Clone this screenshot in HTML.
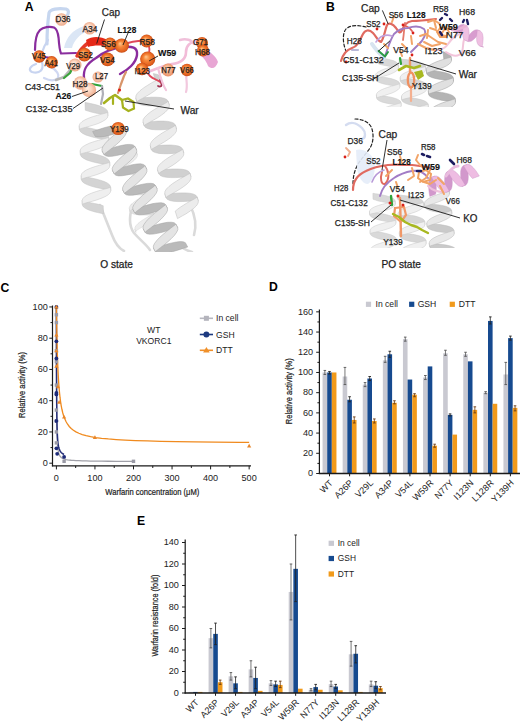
<!DOCTYPE html>
<html><head><meta charset="utf-8"><style>
html,body{margin:0;padding:0;background:#fff;}
svg{display:block;}
text{font-family:"Liberation Sans", sans-serif;}
</style></head><body>
<svg width="520" height="724" viewBox="0 0 520 724">
<rect width="520" height="724" fill="#fff"/>
<defs>
<radialGradient id="gO" cx="50%" cy="50%" r="50%" fx="38%" fy="35%">
<stop offset="0" stop-color="#ffc890"/><stop offset="0.4" stop-color="#f7883a"/><stop offset="0.85" stop-color="#e2601e"/><stop offset="1" stop-color="#c44d18"/></radialGradient>
<radialGradient id="gP" cx="50%" cy="50%" r="50%" fx="38%" fy="35%">
<stop offset="0" stop-color="#fff0e6"/><stop offset="0.5" stop-color="#fad2bc"/><stop offset="1" stop-color="#eeaa8a"/></radialGradient>
<radialGradient id="gQ" cx="50%" cy="50%" r="50%" fx="38%" fy="35%">
<stop offset="0" stop-color="#ffe0c8"/><stop offset="0.5" stop-color="#f8b890"/><stop offset="1" stop-color="#e8906a"/></radialGradient>
<clipPath id="cBt"><rect x="335" y="0" width="140" height="107"/></clipPath>
<clipPath id="cBb"><rect x="330" y="110" width="150" height="138"/></clipPath>
<clipPath id="cA"><rect x="20" y="0" width="205" height="252"/></clipPath>
</defs>
<g clip-path="url(#cA)">
<path d="M100,205 C104,215 108,225 112,235 C115,243 118,248 124,251" fill="none" stroke="#dadada" stroke-width="2.6" stroke-linecap="round" stroke-linejoin="round" />
<path d="M180,246 C184,249 188,251 192,252" fill="none" stroke="#dadada" stroke-width="2.6" stroke-linecap="round" stroke-linejoin="round" />
<path d="M132,205 C130,215 128,225 134,233 C140,240 146,244 150,250" fill="none" stroke="#dadada" stroke-width="2.6" stroke-linecap="round" stroke-linejoin="round" />
<path d="M190,205 C195,215 197,225 194,235" fill="none" stroke="#dadada" stroke-width="2.6" stroke-linecap="round" stroke-linejoin="round" />
<g opacity="0.9"><path d="M114.1,148.5 L115.9,148.6 L118.3,148.5 L121.0,148.5 L124.0,148.6 L127.0,148.7 L129.9,149.0 L132.4,149.5 L134.5,150.2 L135.9,151.1 L136.6,152.3 L137.3,154.9 L136.8,154.6 L135.6,154.4 L133.8,154.3 L131.4,154.4 L128.6,154.4 L125.6,154.3 L122.6,154.2 L119.7,153.9 L117.2,153.4 L115.3,152.6 Z" fill="#dcdcdc" stroke="#cfcfcf" stroke-width="0.5"/><path d="M118.2,168.3 L118.8,168.6 L120.5,168.8 L123.0,168.8 L126.2,168.8 L129.7,168.8 L133.3,169.0 L136.6,169.4 L139.3,170.1 L141.2,171.2 L142.2,172.5 L142.9,175.1 L142.2,174.8 L140.5,174.6 L138.0,174.6 L134.8,174.6 L131.3,174.6 L127.7,174.4 L124.4,174.0 L121.7,173.3 L119.8,172.2 L118.9,170.9 Z" fill="#dcdcdc" stroke="#cfcfcf" stroke-width="0.5"/><path d="M123.7,188.5 L124.4,188.9 L126.1,189.0 L128.6,189.0 L131.8,189.0 L135.3,189.1 L138.9,189.2 L142.2,189.7 L144.9,190.4 L146.8,191.4 L147.7,192.8 L148.4,195.4 L147.8,195.0 L146.1,194.9 L143.6,194.8 L140.4,194.9 L136.9,194.8 L133.3,194.7 L130.0,194.2 L127.3,193.5 L125.4,192.5 L124.4,191.1 Z" fill="#dcdcdc" stroke="#cfcfcf" stroke-width="0.5"/><path d="M129.3,208.7 L130.0,209.1 L131.6,209.3 L134.2,209.3 L137.3,209.3 L140.9,209.3 L144.4,209.5 L147.7,209.9 L150.5,210.6 L152.4,211.7 L153.3,213.0 L154.0,215.6 L153.3,215.3 L151.7,215.1 L149.2,215.1 L146.0,215.1 L142.4,215.1 L138.9,214.9 L135.6,214.5 L132.9,213.8 L130.9,212.7 L130.0,211.4 Z" fill="#dcdcdc" stroke="#cfcfcf" stroke-width="0.5"/><path d="M134.9,229.0 L134.9,229.0 L134.9,229.1 L134.9,229.1 L134.9,229.1 L135.0,229.1 L135.0,229.2 L135.0,229.2 L135.1,229.2 L135.1,229.2 L135.1,229.3 L136.0,232.5 L136.0,232.4 L135.9,232.3 L135.9,232.2 L135.8,232.1 L135.8,232.0 L135.7,232.0 L135.7,231.9 L135.6,231.8 L135.6,231.7 L135.6,231.6 Z" fill="#dcdcdc" stroke="#cfcfcf" stroke-width="0.5"/><path d="M136.6,152.3 L136.2,153.0 L134.9,153.9 L132.7,155.2 L130.0,156.8 L126.9,158.7 L124.0,160.7 L121.3,162.7 L119.4,164.7 L118.3,166.6 L118.2,168.3 L118.9,170.9 L119.3,170.2 L120.6,169.2 L122.8,167.9 L125.5,166.3 L128.5,164.5 L131.5,162.5 L134.1,160.4 L136.1,158.4 L137.2,156.5 L137.3,154.9 Z" fill="#ececec" stroke="#cfcfcf" stroke-width="0.5"/><path d="M142.2,172.5 L141.8,173.2 L140.4,174.2 L138.3,175.5 L135.5,177.1 L132.5,178.9 L129.5,180.9 L126.9,183.0 L124.9,185.0 L123.8,186.9 L123.7,188.5 L124.4,191.1 L124.8,190.4 L126.2,189.5 L128.3,188.2 L131.1,186.6 L134.1,184.7 L137.1,182.7 L139.7,180.7 L141.7,178.7 L142.8,176.8 L142.9,175.1 Z" fill="#ececec" stroke="#cfcfcf" stroke-width="0.5"/><path d="M147.7,192.8 L147.4,193.5 L146.0,194.4 L143.8,195.7 L141.1,197.3 L138.1,199.2 L135.1,201.2 L132.5,203.2 L130.5,205.2 L129.4,207.1 L129.3,208.7 L130.0,211.4 L130.4,210.7 L131.7,209.7 L133.9,208.4 L136.6,206.8 L139.7,205.0 L142.6,203.0 L145.3,200.9 L147.2,198.9 L148.3,197.0 L148.4,195.4 Z" fill="#ececec" stroke="#cfcfcf" stroke-width="0.5"/><path d="M153.3,213.0 L152.9,213.7 L151.6,214.7 L149.4,216.0 L146.7,217.6 L143.6,219.4 L140.7,221.4 L138.0,223.5 L136.1,225.5 L135.0,227.4 L134.9,229.0 L135.6,231.6 L136.0,230.9 L137.3,230.0 L139.5,228.6 L142.2,227.0 L145.2,225.2 L148.2,223.2 L150.8,221.2 L152.8,219.2 L153.9,217.3 L154.0,215.6 Z" fill="#ececec" stroke="#cfcfcf" stroke-width="0.5"/></g>
<g opacity="1.0"><path d="M85.0,102.4 L87.8,102.9 L90.8,103.6 L94.0,104.3 L97.1,105.1 L100.0,106.0 L102.5,107.1 L104.7,108.2 L106.3,109.4 L107.4,110.7 L107.7,112.0 L107.9,115.9 L107.5,115.5 L106.6,115.2 L105.0,114.8 L102.8,114.4 L100.3,114.0 L97.4,113.4 L94.3,112.8 L91.2,112.0 L88.1,111.1 L85.3,110.2 Z" fill="#d4d4d4" stroke="#c2c2c2" stroke-width="0.5"/><path d="M79.2,125.7 L80.0,126.2 L82.1,126.7 L85.3,127.3 L89.4,128.0 L93.9,129.0 L98.4,130.2 L102.5,131.6 L105.8,133.3 L107.9,135.1 L108.7,137.0 L108.9,140.9 L108.1,140.4 L106.0,139.8 L102.8,139.2 L98.7,138.5 L94.2,137.5 L89.7,136.3 L85.6,134.9 L82.3,133.2 L80.2,131.4 L79.4,129.5 Z" fill="#d4d4d4" stroke="#c2c2c2" stroke-width="0.5"/><path d="M80.2,150.6 L80.9,151.1 L83.0,151.7 L86.3,152.3 L90.3,153.0 L94.8,154.0 L99.4,155.2 L103.5,156.6 L106.7,158.2 L108.9,160.1 L109.7,162.0 L109.8,165.8 L109.1,165.3 L107.0,164.8 L103.8,164.2 L99.7,163.4 L95.2,162.5 L90.6,161.3 L86.5,159.9 L83.3,158.2 L81.1,156.4 L80.4,154.5 Z" fill="#d4d4d4" stroke="#c2c2c2" stroke-width="0.5"/><path d="M81.2,175.6 L81.9,176.1 L84.0,176.6 L87.2,177.2 L91.3,178.0 L95.8,179.0 L100.3,180.2 L104.4,181.6 L107.7,183.2 L109.8,185.0 L110.6,187.0 L110.8,190.8 L110.0,190.3 L108.0,189.8 L104.7,189.2 L100.7,188.4 L96.1,187.5 L91.6,186.3 L87.5,184.8 L84.2,183.2 L82.1,181.4 L81.3,179.4 Z" fill="#d4d4d4" stroke="#c2c2c2" stroke-width="0.5"/><path d="M82.1,200.6 L82.4,200.9 L83.3,201.2 L84.8,201.6 L86.7,202.0 L89.0,202.4 L91.7,202.9 L94.5,203.5 L97.5,204.1 L100.4,204.9 L103.2,205.7 L103.5,213.8 L100.7,213.2 L97.8,212.6 L94.9,211.9 L92.0,211.1 L89.3,210.2 L87.0,209.2 L85.0,208.1 L83.5,206.9 L82.6,205.7 L82.3,204.4 Z" fill="#d4d4d4" stroke="#c2c2c2" stroke-width="0.5"/><path d="M107.7,112.0 L107.1,112.6 L105.0,113.3 L101.8,114.1 L97.8,115.2 L93.4,116.5 L89.0,118.0 L85.0,119.8 L81.9,121.7 L79.9,123.7 L79.2,125.7 L79.4,129.5 L80.1,128.9 L82.1,128.2 L85.3,127.4 L89.3,126.3 L93.7,125.0 L98.2,123.5 L102.1,121.7 L105.3,119.8 L107.3,117.9 L107.9,115.9 Z" fill="#efefef" stroke="#c2c2c2" stroke-width="0.5"/><path d="M108.7,137.0 L108.0,137.6 L106.0,138.3 L102.8,139.1 L98.8,140.2 L94.4,141.5 L89.9,143.0 L86.0,144.8 L82.8,146.7 L80.8,148.6 L80.2,150.6 L80.4,154.5 L81.0,153.9 L83.1,153.2 L86.3,152.4 L90.3,151.3 L94.7,150.0 L99.1,148.5 L103.1,146.7 L106.2,144.8 L108.2,142.8 L108.9,140.9 Z" fill="#efefef" stroke="#c2c2c2" stroke-width="0.5"/><path d="M109.7,162.0 L109.0,162.6 L106.9,163.2 L103.8,164.1 L99.8,165.2 L95.3,166.5 L90.9,168.0 L86.9,169.7 L83.8,171.6 L81.8,173.6 L81.2,175.6 L81.3,179.4 L82.0,178.9 L84.0,178.2 L87.2,177.3 L91.2,176.3 L95.7,175.0 L100.1,173.4 L104.1,171.7 L107.2,169.8 L109.2,167.8 L109.8,165.8 Z" fill="#efefef" stroke="#c2c2c2" stroke-width="0.5"/><path d="M110.6,187.0 L109.9,187.5 L107.9,188.2 L104.7,189.1 L100.7,190.2 L96.3,191.5 L91.9,193.0 L87.9,194.7 L84.7,196.6 L82.8,198.6 L82.1,200.6 L82.3,204.4 L83.0,203.9 L85.0,203.2 L88.2,202.3 L92.2,201.3 L96.6,200.0 L101.0,198.4 L105.0,196.7 L108.2,194.8 L110.1,192.8 L110.8,190.8 Z" fill="#efefef" stroke="#c2c2c2" stroke-width="0.5"/></g>
<g opacity="1.0"><path d="M153.3,73.6 L154.5,73.8 L155.6,74.0 L156.6,74.2 L157.6,74.6 L158.4,74.9 L159.1,75.3 L159.8,75.7 L160.2,76.2 L160.6,76.7 L160.9,77.3 L162.0,81.2 L161.9,81.1 L161.7,81.0 L161.3,80.9 L160.9,80.9 L160.2,80.9 L159.5,81.0 L158.7,81.0 L157.8,81.1 L156.7,81.2 L155.6,81.3 Z" fill="#d0d0d0" stroke="#bcbcbc" stroke-width="0.5"/><path d="M135.8,98.0 L136.6,98.2 L138.8,98.1 L142.2,97.8 L146.5,97.5 L151.2,97.2 L156.1,97.2 L160.5,97.5 L164.2,98.3 L166.8,99.5 L168.1,101.2 L169.3,105.1 L168.4,104.8 L166.2,104.9 L162.9,105.2 L158.6,105.6 L153.8,105.8 L149.0,105.9 L144.5,105.5 L140.8,104.8 L138.2,103.6 L136.9,101.8 Z" fill="#d0d0d0" stroke="#bcbcbc" stroke-width="0.5"/><path d="M143.0,121.9 L143.9,122.1 L146.1,122.1 L149.4,121.8 L153.7,121.4 L158.5,121.1 L163.3,121.1 L167.8,121.4 L171.5,122.2 L174.1,123.4 L175.4,125.1 L176.5,129.0 L175.7,128.8 L173.5,128.9 L170.1,129.1 L165.8,129.5 L161.1,129.8 L156.2,129.8 L151.8,129.5 L148.1,128.7 L145.5,127.5 L144.2,125.8 Z" fill="#d0d0d0" stroke="#bcbcbc" stroke-width="0.5"/><path d="M150.3,145.8 L151.1,146.1 L153.3,146.0 L156.7,145.7 L161.0,145.3 L165.7,145.1 L170.6,145.0 L175.0,145.4 L178.7,146.1 L181.3,147.4 L182.6,149.1 L183.8,153.0 L182.9,152.7 L180.7,152.8 L177.4,153.1 L173.1,153.4 L168.3,153.7 L163.5,153.7 L159.0,153.4 L155.3,152.6 L152.7,151.4 L151.4,149.7 Z" fill="#d0d0d0" stroke="#bcbcbc" stroke-width="0.5"/><path d="M157.5,169.7 L158.4,170.0 L160.6,169.9 L163.9,169.6 L168.2,169.3 L173.0,169.0 L177.8,169.0 L182.3,169.3 L186.0,170.0 L188.6,171.3 L189.9,173.0 L191.0,176.9 L190.2,176.6 L188.0,176.7 L184.6,177.0 L180.3,177.3 L175.6,177.6 L170.7,177.6 L166.3,177.3 L162.6,176.6 L160.0,175.3 L158.7,173.6 Z" fill="#d0d0d0" stroke="#bcbcbc" stroke-width="0.5"/><path d="M164.8,193.7 L165.6,193.9 L167.8,193.8 L171.2,193.5 L175.5,193.2 L180.2,192.9 L185.1,192.9 L189.5,193.2 L193.2,194.0 L195.8,195.2 L197.1,196.9 L198.3,200.8 L197.4,200.5 L195.2,200.6 L191.9,200.9 L187.6,201.3 L182.8,201.5 L178.0,201.6 L173.5,201.3 L169.8,200.5 L167.2,199.3 L165.9,197.5 Z" fill="#d0d0d0" stroke="#bcbcbc" stroke-width="0.5"/><path d="M160.9,77.3 L160.3,78.0 L158.4,79.1 L155.4,80.8 L151.7,82.8 L147.6,85.3 L143.6,87.9 L140.0,90.7 L137.4,93.3 L135.9,95.8 L135.8,98.0 L136.9,101.8 L137.5,101.2 L139.4,100.0 L142.4,98.4 L146.1,96.3 L150.2,93.9 L154.2,91.2 L157.8,88.5 L160.4,85.8 L161.9,83.3 L162.0,81.2 Z" fill="#ececec" stroke="#bcbcbc" stroke-width="0.5"/><path d="M168.1,101.2 L167.5,101.9 L165.7,103.1 L162.7,104.7 L159.0,106.8 L154.8,109.2 L150.8,111.8 L147.3,114.6 L144.6,117.3 L143.1,119.7 L143.0,121.9 L144.2,125.8 L144.8,125.1 L146.6,123.9 L149.6,122.3 L153.3,120.2 L157.5,117.8 L161.5,115.1 L165.0,112.4 L167.7,109.7 L169.2,107.2 L169.3,105.1 Z" fill="#ececec" stroke="#bcbcbc" stroke-width="0.5"/><path d="M175.4,125.1 L174.8,125.8 L172.9,127.0 L169.9,128.6 L166.2,130.7 L162.1,133.1 L158.1,135.8 L154.5,138.5 L151.9,141.2 L150.4,143.7 L150.3,145.8 L151.4,149.7 L152.0,149.0 L153.9,147.9 L156.9,146.2 L160.6,144.1 L164.7,141.7 L168.7,139.1 L172.3,136.3 L174.9,133.6 L176.4,131.2 L176.5,129.0 Z" fill="#ececec" stroke="#bcbcbc" stroke-width="0.5"/><path d="M182.6,149.1 L182.0,149.8 L180.2,150.9 L177.2,152.5 L173.5,154.6 L169.3,157.0 L165.3,159.7 L161.8,162.4 L159.1,165.1 L157.6,167.6 L157.5,169.7 L158.7,173.6 L159.3,172.9 L161.1,171.8 L164.1,170.1 L167.8,168.1 L172.0,165.7 L176.0,163.0 L179.5,160.2 L182.2,157.6 L183.7,155.1 L183.8,153.0 Z" fill="#ececec" stroke="#bcbcbc" stroke-width="0.5"/><path d="M189.9,173.0 L189.3,173.7 L187.4,174.8 L184.4,176.5 L180.7,178.5 L176.6,181.0 L172.6,183.6 L169.0,186.4 L166.4,189.0 L164.9,191.5 L164.8,193.7 L165.9,197.5 L166.5,196.9 L168.4,195.7 L171.4,194.1 L175.1,192.0 L179.2,189.6 L183.2,186.9 L186.8,184.2 L189.4,181.5 L190.9,179.0 L191.0,176.9 Z" fill="#ececec" stroke="#bcbcbc" stroke-width="0.5"/><path d="M197.1,196.9 L196.8,197.4 L195.8,198.1 L194.1,199.1 L191.9,200.3 L189.2,201.7 L186.3,203.4 L183.3,205.3 L180.3,207.2 L177.6,209.2 L175.2,211.2 L177.5,218.6 L180.0,217.2 L182.8,215.6 L185.9,213.9 L188.9,211.9 L191.7,209.9 L194.2,207.9 L196.2,206.0 L197.6,204.1 L198.3,202.3 L198.3,200.8 Z" fill="#ececec" stroke="#bcbcbc" stroke-width="0.5"/></g>
<g opacity="1.0"><path d="M92.6,131.5 L94.4,130.9 L97.2,130.0 L100.8,128.8 L104.9,127.5 L109.3,126.4 L113.6,125.5 L117.5,125.0 L120.7,125.0 L123.1,125.6 L124.4,126.8 L126.3,130.4 L125.6,130.4 L123.8,130.9 L121.1,131.8 L117.5,133.0 L113.5,134.3 L109.1,135.4 L104.8,136.4 L100.9,136.9 L97.6,136.9 L95.2,136.4 Z" fill="#bababa" stroke="#a2a2a2" stroke-width="0.5"/><path d="M102.1,151.0 L103.0,150.9 L105.1,150.2 L108.4,149.1 L112.6,147.8 L117.2,146.4 L122.1,145.3 L126.6,144.5 L130.4,144.4 L133.1,144.9 L134.7,146.2 L136.6,149.8 L135.7,149.9 L133.6,150.5 L130.3,151.6 L126.1,153.0 L121.5,154.4 L116.6,155.5 L112.1,156.3 L108.3,156.4 L105.6,155.8 L104.0,154.6 Z" fill="#bababa" stroke="#a2a2a2" stroke-width="0.5"/><path d="M112.4,170.4 L113.2,170.4 L115.4,169.7 L118.7,168.6 L122.8,167.2 L127.5,165.9 L132.3,164.7 L136.8,164.0 L140.6,163.8 L143.4,164.4 L145.0,165.7 L146.8,169.3 L146.0,169.3 L143.9,170.0 L140.6,171.1 L136.4,172.5 L131.7,173.8 L126.9,175.0 L122.4,175.7 L118.6,175.9 L115.8,175.3 L114.3,174.0 Z" fill="#bababa" stroke="#a2a2a2" stroke-width="0.5"/><path d="M122.7,189.9 L123.5,189.8 L125.6,189.2 L128.9,188.0 L133.1,186.7 L137.8,185.3 L142.6,184.2 L147.1,183.4 L150.9,183.3 L153.7,183.8 L155.2,185.1 L157.1,188.7 L156.3,188.8 L154.1,189.4 L150.9,190.6 L146.7,191.9 L142.0,193.3 L137.2,194.4 L132.7,195.2 L128.9,195.3 L126.1,194.8 L124.6,193.5 Z" fill="#bababa" stroke="#a2a2a2" stroke-width="0.5"/><path d="M132.9,209.3 L133.8,209.3 L135.9,208.6 L139.2,207.5 L143.4,206.1 L148.1,204.8 L152.9,203.6 L157.4,202.9 L161.2,202.7 L164.0,203.3 L165.5,204.6 L167.4,208.2 L166.6,208.2 L164.4,208.9 L161.1,210.0 L157.0,211.4 L152.3,212.7 L147.5,213.9 L143.0,214.6 L139.2,214.8 L136.4,214.2 L134.8,212.9 Z" fill="#bababa" stroke="#a2a2a2" stroke-width="0.5"/><path d="M143.2,228.8 L144.0,228.7 L146.2,228.1 L149.5,227.0 L153.6,225.6 L158.3,224.2 L163.1,223.1 L167.6,222.3 L171.4,222.2 L174.2,222.7 L175.8,224.0 L177.7,227.6 L176.8,227.7 L174.7,228.3 L171.4,229.5 L167.2,230.8 L162.5,232.2 L157.7,233.3 L153.2,234.1 L149.4,234.2 L146.7,233.7 L145.1,232.4 Z" fill="#bababa" stroke="#a2a2a2" stroke-width="0.5"/><path d="M153.5,248.2 L154.2,248.2 L156.2,247.6 L159.1,246.6 L163.0,245.4 L167.3,244.0 L171.9,242.9 L176.3,242.0 L180.2,241.6 L183.3,241.8 L185.4,242.7 L187.7,247.0 L186.2,247.4 L183.7,248.2 L180.2,249.4 L176.0,250.7 L171.5,252.0 L167.0,253.0 L162.8,253.6 L159.3,253.7 L156.8,253.1 L155.4,251.8 Z" fill="#bababa" stroke="#a2a2a2" stroke-width="0.5"/><path d="M124.4,126.8 L123.9,127.4 L122.1,128.8 L119.4,130.9 L115.9,133.6 L112.1,136.7 L108.4,140.0 L105.3,143.3 L103.0,146.4 L101.9,149.0 L102.1,151.0 L104.0,154.6 L104.5,153.9 L106.3,152.5 L109.1,150.4 L112.5,147.7 L116.3,144.6 L120.0,141.3 L123.1,138.0 L125.4,135.0 L126.5,132.4 L126.3,130.4 Z" fill="#e4e4e4" stroke="#a2a2a2" stroke-width="0.5"/><path d="M134.7,146.2 L134.2,146.9 L132.4,148.3 L129.6,150.4 L126.2,153.0 L122.4,156.1 L118.7,159.5 L115.6,162.8 L113.3,165.8 L112.2,168.4 L112.4,170.4 L114.3,174.0 L114.8,173.4 L116.6,172.0 L119.3,169.9 L122.8,167.2 L126.6,164.1 L130.3,160.8 L133.4,157.5 L135.7,154.4 L136.8,151.8 L136.6,149.8 Z" fill="#e4e4e4" stroke="#a2a2a2" stroke-width="0.5"/><path d="M145.0,165.7 L144.4,166.3 L142.7,167.7 L139.9,169.8 L136.4,172.5 L132.7,175.6 L129.0,178.9 L125.8,182.2 L123.6,185.3 L122.5,187.9 L122.7,189.9 L124.6,193.5 L125.1,192.8 L126.8,191.4 L129.6,189.3 L133.1,186.7 L136.9,183.6 L140.5,180.2 L143.7,176.9 L145.9,173.9 L147.0,171.3 L146.8,169.3 Z" fill="#e4e4e4" stroke="#a2a2a2" stroke-width="0.5"/><path d="M155.2,185.1 L154.7,185.8 L153.0,187.2 L150.2,189.3 L146.7,191.9 L142.9,195.0 L139.3,198.4 L136.1,201.7 L133.9,204.7 L132.7,207.3 L132.9,209.3 L134.8,212.9 L135.4,212.3 L137.1,210.9 L139.9,208.8 L143.4,206.1 L147.1,203.0 L150.8,199.7 L153.9,196.4 L156.2,193.3 L157.3,190.7 L157.1,188.7 Z" fill="#e4e4e4" stroke="#a2a2a2" stroke-width="0.5"/><path d="M165.5,204.6 L165.0,205.2 L163.2,206.6 L160.5,208.7 L157.0,211.4 L153.2,214.5 L149.5,217.8 L146.4,221.1 L144.1,224.2 L143.0,226.8 L143.2,228.8 L145.1,232.4 L145.6,231.7 L147.4,230.3 L150.2,228.2 L153.6,225.6 L157.4,222.5 L161.1,219.1 L164.2,215.8 L166.5,212.8 L167.6,210.2 L167.4,208.2 Z" fill="#e4e4e4" stroke="#a2a2a2" stroke-width="0.5"/><path d="M175.8,224.0 L175.3,224.7 L173.5,226.1 L170.7,228.2 L167.3,230.9 L163.5,234.0 L159.8,237.3 L156.7,240.6 L154.4,243.6 L153.3,246.2 L153.5,248.2 L155.4,251.8 L155.9,251.2 L157.7,249.8 L160.4,247.7 L163.9,245.0 L167.7,241.9 L171.3,238.6 L174.5,235.3 L176.7,232.2 L177.9,229.6 L177.7,227.6 Z" fill="#e4e4e4" stroke="#a2a2a2" stroke-width="0.5"/></g>
</g>
<path d="M47,44 C47,34 48,20 49,13 C50,9 58,8 66,9 C69,10 69,13 67,16" fill="none" stroke="#c6d6ef" stroke-width="3.2" stroke-linecap="round" stroke-linejoin="round" />
<path d="M64,48 C66,38 72,30 84,26 C88,25 90,28 88,31 C80,34 74,40 72,48 Z" fill="#dbe6f5"/>
<path d="M48,40 C44,46 40,54 42,62 C44,70 40,74 32,72 C28,70 30,66 36,64" fill="none" stroke="#c8d4f0" stroke-width="2.2" stroke-linecap="round" stroke-linejoin="round" />
<path d="M50,66 C56,70 60,74 58,78 C54,82 48,80 44,78" fill="none" stroke="#d0d8f2" stroke-width="2.2" stroke-linecap="round" stroke-linejoin="round" />
<path d="M35,50 C35,42 36,34 40,30 C43,27 50,26 54,27.6 C57,29 58,33 58.6,38 C59,44 59.5,50 61,53.5 L76,53" fill="none" stroke="#8a2d9e" stroke-width="2.2" stroke-linecap="round" stroke-linejoin="round" />
<path d="M44,57 L52,58" fill="none" stroke="#8a2d9e" stroke-width="2.0" stroke-linecap="round" stroke-linejoin="round" />
<path d="M84,78 C83,70 86,64 96,58 C104,52 112,48 122,47 C132,46 138,47 137,55 C136,63 128,70 120,74" fill="none" stroke="#8a2d9e" stroke-width="2.4" stroke-linecap="round" stroke-linejoin="round" />
<path d="M56,80 L64,77 L70,70 L74,66" fill="none" stroke="#b8b8b8" stroke-width="2.6" stroke-linecap="round" stroke-linejoin="round" />
<path d="M64,78 L70,73 L73,67" fill="none" stroke="#3aa23a" stroke-width="2.2" stroke-linecap="round" stroke-linejoin="round" />
<path d="M77,56 C80,50 84,46 88,43" fill="none" stroke="#e53a2a" stroke-width="3.5" stroke-linecap="round" stroke-linejoin="round" />
<path d="M86,40 C92,36 100,36 108,40 L110,47 C102,45 94,45 88,47 Z" fill="#e52818"/>
<path d="M120,45 C130,42 140,40 147,41 C150,46 150,52 148,58 C146,64 144,70 150,76 C154,80 160,80 162,84" fill="none" stroke="#e0485a" stroke-width="1.8" stroke-linecap="round" stroke-linejoin="round" />
<path d="M160,80 C163,84 162,88 158,86" fill="none" stroke="#a03050" stroke-width="1.8" stroke-linecap="round" stroke-linejoin="round" />
<path d="M142,74 C150,72 160,66 172,64 C180,63 186,60 186,52 C186,46 190,42 196,41" fill="none" stroke="#f2bcd8" stroke-width="2.6" stroke-linecap="round" stroke-linejoin="round" />
<path d="M180,40 C186,38 192,40 194,44" fill="none" stroke="#f0c0da" stroke-width="2.4" stroke-linecap="round" stroke-linejoin="round" />
<path d="M158,68 C160,76 162,84 166,90" fill="none" stroke="#f2c4dc" stroke-width="2.2" stroke-linecap="round" stroke-linejoin="round" />
<path d="M186,72 C186,80 188,86 186,92" fill="none" stroke="#f2c8de" stroke-width="2.2" stroke-linecap="round" stroke-linejoin="round" />
<path d="M204,48 C210,52 216,56 218,62 C216,68 212,70 208,66 C206,60 202,56 198,54 Z" fill="#e8a6d4"/>
<path d="M92,84 L102,86" fill="none" stroke="#2fa33a" stroke-width="2.2" stroke-linecap="round" stroke-linejoin="round" />
<path d="M102,86 L103,94 L101,104" fill="none" stroke="#b0b0b8" stroke-width="2.2" stroke-linecap="round" stroke-linejoin="round" />
<path d="M118,93 L121,84 L124,76 L126,72" fill="none" stroke="#d8956a" stroke-width="2.2" stroke-linecap="round" stroke-linejoin="round" />
<circle cx="119.5" cy="90" r="1.6" fill="#e0201a"/>
<path d="M104,103 L110,98 L115,95 L122,100" fill="none" stroke="#a6b21e" stroke-width="2.6" stroke-linecap="round" stroke-linejoin="round" />
<path d="M122,100 L128,98.5 L133.5,102 L134,108.5 L128.5,111 L123,107.5 Z" fill="none" stroke="#a6b21e" stroke-width="2.2"/>
<path d="M113,96 L113,104" fill="none" stroke="#a6b21e" stroke-width="2.2" stroke-linecap="round" stroke-linejoin="round" />
<circle cx="61.5" cy="19.5" r="6.3" fill="url(#gP)"/>
<circle cx="89.6" cy="28.3" r="6.3" fill="url(#gP)"/>
<circle cx="75" cy="65" r="6.5" fill="url(#gP)"/>
<circle cx="80.5" cy="83" r="6.8" fill="url(#gP)"/>
<circle cx="89" cy="90" r="7.2" fill="url(#gP)"/>
<circle cx="98" cy="77" r="5.5" fill="url(#gP)"/>
<circle cx="168" cy="70" r="6.5" fill="url(#gQ)"/>
<circle cx="39.2" cy="56.5" r="6.2" fill="url(#gO)"/>
<circle cx="51.7" cy="62.3" r="6.2" fill="url(#gO)"/>
<circle cx="84.4" cy="54.6" r="6.8" fill="url(#gO)"/>
<circle cx="107.5" cy="59.4" r="6.8" fill="url(#gO)"/>
<circle cx="110" cy="44" r="6.5" fill="url(#gO)"/>
<circle cx="121.7" cy="45.6" r="7.2" fill="url(#gO)"/>
<circle cx="146.7" cy="41" r="6.5" fill="url(#gO)"/>
<circle cx="147.7" cy="59" r="7.6" fill="url(#gO)"/>
<circle cx="142" cy="69" r="6.2" fill="url(#gO)"/>
<circle cx="187" cy="70" r="6.2" fill="url(#gO)"/>
<circle cx="202" cy="43" r="6" fill="url(#gO)"/>
<circle cx="203" cy="50.5" r="6" fill="url(#gO)"/>
<circle cx="118.2" cy="128.5" r="6.6" fill="url(#gO)"/>
<line x1="104.5" y1="19.5" x2="96.7" y2="43.6" stroke="#1a1a1a" stroke-width="0.9"/>
<line x1="128" y1="33" x2="123" y2="45" stroke="#1a1a1a" stroke-width="0.9"/>
<line x1="158" y1="56" x2="149" y2="61" stroke="#1a1a1a" stroke-width="0.9"/>
<line x1="72" y1="96.5" x2="88" y2="91" stroke="#1a1a1a" stroke-width="0.9"/>
<line x1="73" y1="108.5" x2="103" y2="88" stroke="#1a1a1a" stroke-width="0.9"/>
<line x1="125" y1="101" x2="174" y2="109" stroke="#1a1a1a" stroke-width="0.9"/>
<text x="55.50" y="21.85" font-size="8.6" font-weight="normal" fill="#1e1e1e" stroke="#1e1e1e" stroke-width="0.25" textLength="15.00" lengthAdjust="spacingAndGlyphs">D36</text>
<text x="82.50" y="31.85" font-size="8.6" font-weight="normal" fill="#1e1e1e" stroke="#1e1e1e" stroke-width="0.25" textLength="15.00" lengthAdjust="spacingAndGlyphs">A34</text>
<text x="32.00" y="58.60" font-size="8.6" font-weight="normal" fill="#1e1e1e" stroke="#1e1e1e" stroke-width="0.25" textLength="13.75" lengthAdjust="spacingAndGlyphs">V45</text>
<text x="44.50" y="65.60" font-size="8.6" font-weight="normal" fill="#1e1e1e" stroke="#1e1e1e" stroke-width="0.25" textLength="13.50" lengthAdjust="spacingAndGlyphs">A41</text>
<text x="78.00" y="58.10" font-size="8.6" font-weight="normal" fill="#1e1e1e" stroke="#1e1e1e" stroke-width="0.25" textLength="15.00" lengthAdjust="spacingAndGlyphs">S52</text>
<text x="100.00" y="62.60" font-size="8.6" font-weight="normal" fill="#1e1e1e" stroke="#1e1e1e" stroke-width="0.25" textLength="15.00" lengthAdjust="spacingAndGlyphs">V54</text>
<text x="66.25" y="69.35" font-size="8.6" font-weight="normal" fill="#1e1e1e" stroke="#1e1e1e" stroke-width="0.25" textLength="13.75" lengthAdjust="spacingAndGlyphs">V29</text>
<text x="101.00" y="46.85" font-size="8.6" font-weight="normal" fill="#1e1e1e" stroke="#1e1e1e" stroke-width="0.25" textLength="15.00" lengthAdjust="spacingAndGlyphs">S56</text>
<text x="95.00" y="79.35" font-size="8.6" font-weight="normal" fill="#1e1e1e" stroke="#1e1e1e" stroke-width="0.25" textLength="13.00" lengthAdjust="spacingAndGlyphs">L27</text>
<text x="72.50" y="87.35" font-size="8.6" font-weight="normal" fill="#1e1e1e" stroke="#1e1e1e" stroke-width="0.25" textLength="15.00" lengthAdjust="spacingAndGlyphs">H28</text>
<text x="25.00" y="90.10" font-size="8.6" font-weight="normal" fill="#1e1e1e" stroke="#1e1e1e" stroke-width="0.25" textLength="35.00" lengthAdjust="spacingAndGlyphs">C43-C51</text>
<text x="25.75" y="111.85" font-size="8.6" font-weight="normal" fill="#1e1e1e" stroke="#1e1e1e" stroke-width="0.25" textLength="46.75" lengthAdjust="spacingAndGlyphs">C132-C135</text>
<text x="110.00" y="131.85" font-size="8.6" font-weight="normal" fill="#1e1e1e" stroke="#1e1e1e" stroke-width="0.25" textLength="18.75" lengthAdjust="spacingAndGlyphs">Y139</text>
<text x="139.50" y="45.10" font-size="8.6" font-weight="normal" fill="#1e1e1e" stroke="#1e1e1e" stroke-width="0.25" textLength="15.50" lengthAdjust="spacingAndGlyphs">R58</text>
<text x="134.50" y="73.60" font-size="8.6" font-weight="normal" fill="#1e1e1e" stroke="#1e1e1e" stroke-width="0.25" textLength="15.50" lengthAdjust="spacingAndGlyphs">I123</text>
<text x="161.25" y="73.10" font-size="8.6" font-weight="normal" fill="#1e1e1e" stroke="#1e1e1e" stroke-width="0.25" textLength="14.25" lengthAdjust="spacingAndGlyphs">N77</text>
<text x="180.00" y="73.10" font-size="8.6" font-weight="normal" fill="#1e1e1e" stroke="#1e1e1e" stroke-width="0.25" textLength="13.75" lengthAdjust="spacingAndGlyphs">V66</text>
<text x="193.00" y="45.10" font-size="8.6" font-weight="normal" fill="#1e1e1e" stroke="#1e1e1e" stroke-width="0.25" textLength="15.00" lengthAdjust="spacingAndGlyphs">G71</text>
<text x="195.00" y="55.10" font-size="8.6" font-weight="normal" fill="#1e1e1e" stroke="#1e1e1e" stroke-width="0.25" textLength="15.00" lengthAdjust="spacingAndGlyphs">H68</text>
<text x="117.50" y="32.60" font-size="8.6" font-weight="bold" fill="#111" stroke="#111" stroke-width="0.15" textLength="18.75" lengthAdjust="spacingAndGlyphs">L128</text>
<text x="158.00" y="56.10" font-size="8.6" font-weight="bold" fill="#111" stroke="#111" stroke-width="0.15" textLength="18.25" lengthAdjust="spacingAndGlyphs">W59</text>
<text x="55.50" y="98.85" font-size="8.6" font-weight="bold" fill="#111" stroke="#111" stroke-width="0.15" textLength="15.75" lengthAdjust="spacingAndGlyphs">A26</text>
<text x="101.75" y="16.20" font-size="10" font-weight="normal" fill="#1e1e1e" stroke="#1e1e1e" stroke-width="0.25" textLength="18.25" lengthAdjust="spacingAndGlyphs">Cap</text>
<text x="180.50" y="113.60" font-size="10" font-weight="normal" fill="#1e1e1e" stroke="#1e1e1e" stroke-width="0.25" textLength="18.25" lengthAdjust="spacingAndGlyphs">War</text>
<text x="100.20" y="268.24" font-size="10.1" font-weight="normal" fill="#1e1e1e" stroke="#1e1e1e" stroke-width="0.25" textLength="32.70" lengthAdjust="spacingAndGlyphs">O state</text>
<g clip-path="url(#cBt)">
<g opacity="1.0"><path d="M377.5,57.6 L379.7,57.9 L382.3,58.3 L385.1,58.7 L387.9,59.2 L390.7,59.9 L393.2,60.6 L395.3,61.5 L396.9,62.5 L397.9,63.5 L398.4,64.7 L398.6,67.8 L398.2,67.6 L397.2,67.4 L395.7,67.1 L393.6,66.9 L391.1,66.6 L388.4,66.2 L385.6,65.7 L382.8,65.1 L380.2,64.4 L377.9,63.5 Z" fill="#d9d9d9" stroke="#c8c8c8" stroke-width="0.5"/><path d="M375.1,75.8 L375.7,76.1 L377.4,76.4 L380.1,76.7 L383.5,77.2 L387.2,77.8 L391.0,78.6 L394.4,79.6 L397.2,80.8 L399.0,82.1 L399.7,83.6 L399.9,86.8 L399.3,86.5 L397.5,86.2 L394.9,85.8 L391.5,85.4 L387.7,84.8 L383.9,84.0 L380.5,83.0 L377.8,81.8 L376.0,80.4 L375.3,78.9 Z" fill="#d9d9d9" stroke="#c8c8c8" stroke-width="0.5"/><path d="M376.4,94.8 L377.0,95.1 L378.7,95.4 L381.4,95.7 L384.8,96.1 L388.5,96.7 L392.3,97.5 L395.7,98.5 L398.5,99.7 L400.3,101.1 L401.0,102.6 L401.2,105.7 L400.6,105.4 L398.8,105.1 L396.2,104.8 L392.8,104.3 L389.0,103.7 L385.2,102.9 L381.8,102.0 L379.1,100.8 L377.3,99.4 L376.6,97.9 Z" fill="#d9d9d9" stroke="#c8c8c8" stroke-width="0.5"/><path d="M377.7,113.7 L377.8,113.8 L378.0,113.9 L378.4,114.1 L379.0,114.2 L379.7,114.3 L380.6,114.4 L381.6,114.5 L382.7,114.7 L383.9,114.8 L385.2,115.0 L385.6,121.7 L384.3,121.3 L383.1,120.9 L382.0,120.5 L381.0,120.0 L380.1,119.5 L379.4,119.0 L378.7,118.5 L378.3,118.0 L378.0,117.4 L377.9,116.8 Z" fill="#d9d9d9" stroke="#c8c8c8" stroke-width="0.5"/><path d="M398.4,64.7 L397.8,65.1 L396.1,65.6 L393.5,66.3 L390.2,67.2 L386.6,68.3 L382.9,69.6 L379.7,71.1 L377.1,72.6 L375.5,74.2 L375.1,75.8 L375.3,78.9 L375.8,78.5 L377.5,78.0 L380.1,77.3 L383.4,76.4 L387.1,75.3 L390.7,74.0 L393.9,72.5 L396.5,71.0 L398.1,69.4 L398.6,67.8 Z" fill="#f0f0f0" stroke="#c8c8c8" stroke-width="0.5"/><path d="M399.7,83.6 L399.1,84.0 L397.4,84.5 L394.8,85.3 L391.5,86.2 L387.9,87.3 L384.3,88.6 L381.0,90.0 L378.4,91.6 L376.8,93.2 L376.4,94.8 L376.6,97.9 L377.1,97.5 L378.8,97.0 L381.4,96.3 L384.7,95.4 L388.4,94.2 L392.0,93.0 L395.2,91.5 L397.8,89.9 L399.4,88.3 L399.9,86.8 Z" fill="#f0f0f0" stroke="#c8c8c8" stroke-width="0.5"/><path d="M401.0,102.6 L400.4,103.0 L398.7,103.5 L396.1,104.2 L392.8,105.1 L389.2,106.2 L385.6,107.5 L382.3,109.0 L379.8,110.5 L378.2,112.1 L377.7,113.7 L377.9,116.8 L378.5,116.5 L380.1,115.9 L382.7,115.2 L386.0,114.3 L389.7,113.2 L393.3,111.9 L396.5,110.5 L399.1,108.9 L400.7,107.3 L401.2,105.7 Z" fill="#f0f0f0" stroke="#c8c8c8" stroke-width="0.5"/></g>
<g opacity="1.0"><path d="M443.0,51.7 L444.4,52.1 L445.6,52.5 L446.8,52.9 L447.9,53.4 L448.8,53.9 L449.6,54.4 L450.2,55.0 L450.7,55.5 L451.0,56.1 L451.1,56.8 L451.5,60.3 L451.4,60.2 L451.1,60.1 L450.7,60.0 L450.1,59.9 L449.4,59.8 L448.5,59.7 L447.5,59.6 L446.3,59.5 L445.1,59.4 L443.8,59.3 Z" fill="#b4b4b4" stroke="#a0a0a0" stroke-width="0.5"/><path d="M426.3,69.7 L426.9,70.0 L428.8,70.3 L431.7,70.6 L435.4,70.9 L439.5,71.5 L443.6,72.3 L447.3,73.3 L450.4,74.5 L452.4,76.0 L453.2,77.7 L453.5,81.2 L452.8,80.9 L451.0,80.7 L448.0,80.4 L444.4,80.0 L440.3,79.5 L436.2,78.7 L432.4,77.7 L429.4,76.4 L427.4,75.0 L426.6,73.3 Z" fill="#b4b4b4" stroke="#a0a0a0" stroke-width="0.5"/><path d="M428.3,90.6 L429.0,90.9 L430.8,91.2 L433.8,91.5 L437.4,91.8 L441.5,92.4 L445.6,93.2 L449.4,94.2 L452.4,95.4 L454.4,96.9 L455.2,98.6 L455.5,102.1 L454.9,101.8 L453.0,101.6 L450.1,101.3 L446.4,100.9 L442.3,100.4 L438.2,99.6 L434.4,98.6 L431.4,97.3 L429.4,95.9 L428.6,94.2 Z" fill="#b4b4b4" stroke="#a0a0a0" stroke-width="0.5"/><path d="M430.3,111.5 L430.5,111.7 L431.2,111.9 L432.2,112.0 L433.6,112.2 L435.3,112.3 L437.2,112.5 L439.4,112.7 L441.7,113.0 L444.0,113.4 L446.4,113.8 L447.2,121.7 L444.8,121.3 L442.5,120.9 L440.1,120.5 L437.9,119.9 L435.9,119.3 L434.2,118.6 L432.8,117.8 L431.7,117.0 L431.0,116.1 L430.7,115.1 Z" fill="#b4b4b4" stroke="#a0a0a0" stroke-width="0.5"/><path d="M451.1,56.8 L450.5,57.2 L448.7,57.8 L445.9,58.6 L442.4,59.7 L438.5,61.0 L434.6,62.6 L431.1,64.3 L428.4,66.1 L426.7,67.9 L426.3,69.7 L426.6,73.3 L427.2,72.9 L429.0,72.3 L431.8,71.4 L435.4,70.3 L439.3,69.0 L443.1,67.5 L446.6,65.8 L449.3,64.0 L451.0,62.1 L451.5,60.3 Z" fill="#e0e0e0" stroke="#a0a0a0" stroke-width="0.5"/><path d="M453.2,77.7 L452.6,78.1 L450.8,78.7 L448.0,79.5 L444.4,80.6 L440.5,81.9 L436.6,83.5 L433.1,85.2 L430.4,87.0 L428.8,88.8 L428.3,90.6 L428.6,94.2 L429.2,93.8 L431.0,93.2 L433.8,92.3 L437.4,91.2 L441.3,89.9 L445.2,88.4 L448.6,86.7 L451.4,84.9 L453.0,83.0 L453.5,81.2 Z" fill="#e0e0e0" stroke="#a0a0a0" stroke-width="0.5"/><path d="M455.2,98.6 L454.6,99.0 L452.8,99.6 L450.0,100.4 L446.4,101.5 L442.5,102.8 L438.6,104.4 L435.2,106.1 L432.5,107.9 L430.8,109.7 L430.3,111.5 L430.7,115.1 L431.3,114.7 L433.1,114.1 L435.9,113.2 L439.4,112.1 L443.3,110.8 L447.2,109.3 L450.7,107.6 L453.4,105.8 L455.1,103.9 L455.5,102.1 Z" fill="#e0e0e0" stroke="#a0a0a0" stroke-width="0.5"/></g>
<g opacity="1.0"><path d="M399.1,58.8 L400.5,59.0 L402.8,59.3 L405.9,59.6 L409.5,60.0 L413.3,60.6 L417.1,61.4 L420.4,62.4 L423.1,63.5 L424.8,64.9 L425.5,66.3 L425.7,69.7 L425.1,69.4 L423.5,69.2 L420.9,68.9 L417.6,68.6 L413.9,68.1 L410.0,67.4 L406.3,66.6 L403.2,65.5 L400.8,64.3 L399.4,63.0 Z" fill="#d6d6d6" stroke="#c4c4c4" stroke-width="0.5"/><path d="M400.2,77.6 L400.8,77.8 L402.7,78.1 L405.6,78.4 L409.3,78.8 L413.3,79.3 L417.4,80.1 L421.1,81.1 L424.1,82.3 L426.0,83.7 L426.8,85.3 L427.0,88.6 L426.3,88.4 L424.5,88.1 L421.6,87.8 L417.9,87.4 L413.9,86.8 L409.8,86.1 L406.1,85.1 L403.1,83.9 L401.2,82.5 L400.4,80.9 Z" fill="#d6d6d6" stroke="#c4c4c4" stroke-width="0.5"/><path d="M401.5,96.5 L402.1,96.8 L404.0,97.0 L406.9,97.3 L410.6,97.7 L414.6,98.3 L418.7,99.1 L422.4,100.1 L425.4,101.3 L427.3,102.7 L428.1,104.2 L428.3,107.6 L427.7,107.3 L425.8,107.1 L422.9,106.8 L419.2,106.4 L415.2,105.8 L411.1,105.0 L407.4,104.0 L404.4,102.8 L402.5,101.4 L401.7,99.9 Z" fill="#d6d6d6" stroke="#c4c4c4" stroke-width="0.5"/><path d="M402.8,115.5 L402.8,115.5 L402.9,115.6 L403.0,115.6 L403.2,115.7 L403.3,115.7 L403.6,115.8 L403.9,115.8 L404.2,115.9 L404.5,115.9 L404.9,115.9 L405.3,121.6 L404.9,121.3 L404.5,121.1 L404.2,120.8 L403.9,120.5 L403.7,120.3 L403.5,120.0 L403.3,119.7 L403.2,119.4 L403.1,119.1 L403.0,118.8 Z" fill="#d6d6d6" stroke="#c4c4c4" stroke-width="0.5"/><path d="M425.5,66.3 L424.9,66.7 L423.0,67.2 L420.2,67.8 L416.6,68.7 L412.7,69.9 L408.7,71.2 L405.2,72.7 L402.4,74.3 L400.7,75.9 L400.2,77.6 L400.4,80.9 L401.0,80.6 L402.8,80.1 L405.7,79.4 L409.2,78.5 L413.2,77.4 L417.1,76.0 L420.7,74.5 L423.4,72.9 L425.2,71.3 L425.7,69.7 Z" fill="#f0f0f0" stroke="#c4c4c4" stroke-width="0.5"/><path d="M426.8,85.3 L426.2,85.6 L424.3,86.1 L421.5,86.8 L417.9,87.7 L414.0,88.8 L410.1,90.2 L406.5,91.6 L403.8,93.2 L402.0,94.9 L401.5,96.5 L401.7,99.9 L402.3,99.5 L404.1,99.0 L407.0,98.3 L410.6,97.4 L414.5,96.3 L418.4,95.0 L422.0,93.5 L424.7,91.9 L426.5,90.2 L427.0,88.6 Z" fill="#f0f0f0" stroke="#c4c4c4" stroke-width="0.5"/><path d="M428.1,104.2 L427.5,104.6 L425.6,105.1 L422.8,105.8 L419.2,106.7 L415.3,107.8 L411.4,109.1 L407.8,110.6 L405.1,112.2 L403.3,113.8 L402.8,115.5 L403.0,118.8 L403.6,118.5 L405.5,118.0 L408.3,117.3 L411.9,116.4 L415.8,115.3 L419.7,113.9 L423.3,112.4 L426.0,110.8 L427.8,109.2 L428.3,107.6 Z" fill="#f0f0f0" stroke="#c4c4c4" stroke-width="0.5"/></g>
</g>
<path d="M366,27 C358,25 350,25 346,29 C342,34 343,44 346,51" fill="none" stroke="#222" stroke-width="1.2" stroke-linecap="round" stroke-linejoin="round" stroke-dasharray="3,2.2"/>
<path d="M352,50 L358,50" fill="none" stroke="#b8b8d8" stroke-width="2.2" stroke-linecap="round" stroke-linejoin="round" />
<path d="M372,44 C376,50 380,54 384,58" fill="none" stroke="#d8e4f0" stroke-width="4" stroke-linecap="round" stroke-linejoin="round" />
<path d="M428,48 C436,52 444,50 448,44 C452,38 456,34 462,34" fill="none" stroke="#f4c8dc" stroke-width="2.2" stroke-linecap="round" stroke-linejoin="round" />
<path d="M446,52 C452,56 458,58 462,52 C464,46 462,40 466,36" fill="none" stroke="#f2c4da" stroke-width="2.0" stroke-linecap="round" stroke-linejoin="round" />
<g opacity="1.0"><path d="M453.9,31.2 L454.8,30.1 L455.6,29.0 L456.6,27.9 L457.6,26.9 L458.6,26.0 L459.7,25.3 L460.7,24.8 L461.6,24.5 L462.5,24.4 L463.4,24.6 L466.3,25.7 L466.2,25.8 L465.9,26.1 L465.6,26.7 L465.1,27.4 L464.5,28.3 L463.8,29.3 L463.1,30.4 L462.2,31.5 L461.2,32.6 L460.2,33.6 Z" fill="#d89ccf" stroke="#cc94c4" stroke-width="0.4"/><path d="M465.3,40.3 L465.6,40.1 L466.2,39.2 L467.0,37.9 L468.2,36.2 L469.6,34.4 L471.1,32.7 L472.8,31.3 L474.4,30.3 L476.0,29.8 L477.4,29.9 L480.3,31.1 L480.0,31.3 L479.5,32.2 L478.6,33.5 L477.5,35.2 L476.1,37.0 L474.5,38.7 L472.9,40.1 L471.2,41.2 L469.7,41.6 L468.3,41.5 Z" fill="#d89ccf" stroke="#cc94c4" stroke-width="0.4"/><path d="M479.3,45.7 L479.4,45.7 L479.4,45.7 L479.4,45.7 L479.4,45.7 L479.4,45.7 L479.5,45.6 L479.5,45.6 L479.5,45.6 L479.6,45.5 L479.6,45.5 L483.6,47.0 L483.5,47.0 L483.3,47.0 L483.2,47.0 L483.1,47.0 L482.9,47.0 L482.8,47.0 L482.7,47.0 L482.5,46.9 L482.4,46.9 L482.3,46.8 Z" fill="#d89ccf" stroke="#cc94c4" stroke-width="0.4"/><path d="M463.4,24.6 L463.4,24.9 L463.2,25.9 L463.0,27.5 L462.7,29.5 L462.6,31.8 L462.6,34.1 L462.8,36.3 L463.4,38.1 L464.2,39.5 L465.3,40.3 L468.3,41.5 L468.3,41.1 L468.4,40.1 L468.7,38.5 L468.9,36.5 L469.1,34.3 L469.1,31.9 L468.8,29.8 L468.3,27.9 L467.4,26.5 L466.3,25.7 Z" fill="#efc0e2" stroke="#cc94c4" stroke-width="0.4"/><path d="M477.4,29.9 L477.4,30.3 L477.2,31.3 L477.0,32.9 L476.7,34.9 L476.6,37.1 L476.6,39.5 L476.8,41.6 L477.4,43.5 L478.2,44.9 L479.3,45.7 L482.3,46.8 L482.3,46.5 L482.4,45.5 L482.7,43.9 L482.9,41.9 L483.1,39.7 L483.1,37.3 L482.8,35.1 L482.3,33.3 L481.4,31.9 L480.3,31.1 Z" fill="#efc0e2" stroke="#cc94c4" stroke-width="0.4"/></g>
<path d="M452,30 C458,30 462,28 466,26" fill="none" stroke="#eab4d6" stroke-width="2.6" stroke-linecap="round" stroke-linejoin="round" />
<path d="M341,61 C343,54 346,50 352,48 C358,46 360,40 363,34 C365,30 369,29 373,33 C376,36 378,41 381,42 C384,38 385,30 387,25 C389,22 393,24 396,28 C398,31 400,35 402,30 C404,26 406,22 412,21 C420,21 428,20 436,19" fill="none" stroke="#e06a60" stroke-width="2.2" stroke-linecap="round" stroke-linejoin="round" />
<path d="M405,23 C404,28 404,34 403,40" fill="none" stroke="#e4786a" stroke-width="1.8" stroke-linecap="round" stroke-linejoin="round" />
<path d="M403,25 C407,26 410,28 412,31" fill="none" stroke="#e0605a" stroke-width="1.8" stroke-linecap="round" stroke-linejoin="round" />
<path d="M385,56 C388,48 390,40 394,34 C398,30 403,28 408,28 C414,26 420,26 424,29 C427,33 424,40 418,45 C415,48 413,50 411,52" fill="none" stroke="#a07cc4" stroke-width="1.9" stroke-linecap="round" stroke-linejoin="round" />
<path d="M376,42 C380,36 386,34 392,36" fill="none" stroke="#c0a0dc" stroke-width="1.6" stroke-linecap="round" stroke-linejoin="round" />
<path d="M428,22 L434,20 L440,24" fill="none" stroke="#f2a468" stroke-width="2.0" stroke-linecap="round" stroke-linejoin="round" />
<path d="M430,28 L436,30 L440,35 L446,36" fill="none" stroke="#f2a468" stroke-width="2.0" stroke-linecap="round" stroke-linejoin="round" />
<path d="M426,34 L432,38 L438,42 L446,44" fill="none" stroke="#f2a468" stroke-width="2.0" stroke-linecap="round" stroke-linejoin="round" />
<path d="M424,42 L432,46 L440,44" fill="none" stroke="#f2a468" stroke-width="2.0" stroke-linecap="round" stroke-linejoin="round" />
<path d="M434,20 L436,28" fill="none" stroke="#f2a468" stroke-width="2.0" stroke-linecap="round" stroke-linejoin="round" />
<path d="M428,30 L427,38" fill="none" stroke="#f2a468" stroke-width="2.0" stroke-linecap="round" stroke-linejoin="round" />
<path d="M440,36 L444,30 L450,28" fill="none" stroke="#f2a468" stroke-width="2.0" stroke-linecap="round" stroke-linejoin="round" />
<path d="M420,36 L426,34" fill="none" stroke="#f2a468" stroke-width="2.0" stroke-linecap="round" stroke-linejoin="round" />
<path d="M411,36 L412,44" fill="none" stroke="#f2a468" stroke-width="2.0" stroke-linecap="round" stroke-linejoin="round" />
<path d="M402,44 L406,48" fill="none" stroke="#f2a468" stroke-width="2.0" stroke-linecap="round" stroke-linejoin="round" />
<path d="M392,22 L394,16" fill="none" stroke="#f2a468" stroke-width="2.0" stroke-linecap="round" stroke-linejoin="round" />
<path d="M418,44 L426,48 L434,50" fill="none" stroke="#f2a468" stroke-width="2.0" stroke-linecap="round" stroke-linejoin="round" />
<path d="M400,50 L402,56" fill="none" stroke="#f2a468" stroke-width="2.0" stroke-linecap="round" stroke-linejoin="round" />
<path d="M384,44 L388,48" fill="none" stroke="#f2a468" stroke-width="2.0" stroke-linecap="round" stroke-linejoin="round" />
<path d="M440,28 L446,27 L449,32 L446,37 L440,37 L437,32 Z" fill="none" stroke="#f0a060" stroke-width="1.8"/>
<path d="M410,58 L410,72" fill="none" stroke="#f09868" stroke-width="2.4" stroke-linecap="round" stroke-linejoin="round" />
<path d="M411,88 L411,101" fill="none" stroke="#f4b090" stroke-width="2.2" stroke-linecap="round" stroke-linejoin="round" />
<ellipse cx="411" cy="80" rx="3.2" ry="7.5" fill="none" stroke="#f09060" stroke-width="2.3"/>
<path d="M399,70 L406,66 L414,68 L420,66" fill="none" stroke="#a8b820" stroke-width="2.6" stroke-linecap="round" stroke-linejoin="round" />
<path d="M414,72 L422,70 L424,76 L418,80 Z" fill="#a8b820"/>
<path d="M400,58 L401,64" fill="none" stroke="#2fa33a" stroke-width="2.2" stroke-linecap="round" stroke-linejoin="round" />
<path d="M378.6,51 L385,56.5 L388,52" fill="none" stroke="#2a9a45" stroke-width="2.0" stroke-linecap="round" stroke-linejoin="round" />
<line x1="389.8" y1="41" x2="378.6" y2="51" stroke="#1a1a1a" stroke-width="1.0"/>
<path d="M440,20 L442,18" fill="none" stroke="#1c1c60" stroke-width="2.4" stroke-linecap="round" stroke-linejoin="round" />
<path d="M445,14 L447,15" fill="none" stroke="#1c1c60" stroke-width="2.4" stroke-linecap="round" stroke-linejoin="round" />
<path d="M450,19 L452,21" fill="none" stroke="#1c1c60" stroke-width="2.4" stroke-linecap="round" stroke-linejoin="round" />
<path d="M440,32 L442,35" fill="none" stroke="#1c1c60" stroke-width="2.4" stroke-linecap="round" stroke-linejoin="round" />
<path d="M463,22 L464,20" fill="none" stroke="#1c1c60" stroke-width="2.4" stroke-linecap="round" stroke-linejoin="round" />
<path d="M467,20 L468,24" fill="none" stroke="#1c1c60" stroke-width="2.4" stroke-linecap="round" stroke-linejoin="round" />
<circle cx="377" cy="29" r="1.4" fill="#d82018"/>
<circle cx="384" cy="24" r="1.4" fill="#d82018"/>
<circle cx="412" cy="55" r="1.4" fill="#d82018"/>
<circle cx="346" cy="62" r="1.4" fill="#d82018"/>
<circle cx="403" cy="25" r="1.4" fill="#d82018"/>
<circle cx="413" cy="33" r="1.4" fill="#d82018"/>
<line x1="382.4" y1="10.4" x2="388.2" y2="24" stroke="#1a1a1a" stroke-width="0.9"/>
<line x1="372" y1="80" x2="399" y2="63" stroke="#1a1a1a" stroke-width="0.9"/>
<line x1="410" y1="60" x2="456" y2="74" stroke="#1a1a1a" stroke-width="0.9"/>
<text x="388.70" y="17.90" font-size="8.6" font-weight="normal" fill="#1e1e1e" stroke="#1e1e1e" stroke-width="0.25" textLength="14.50" lengthAdjust="spacingAndGlyphs">S56</text>
<text x="432.90" y="12.00" font-size="8.6" font-weight="normal" fill="#1e1e1e" stroke="#1e1e1e" stroke-width="0.25" textLength="15.60" lengthAdjust="spacingAndGlyphs">R58</text>
<text x="459.00" y="15.10" font-size="8.6" font-weight="normal" fill="#1e1e1e" stroke="#1e1e1e" stroke-width="0.25" textLength="16.00" lengthAdjust="spacingAndGlyphs">H68</text>
<text x="445.80" y="38.10" font-size="8.6" font-weight="normal" fill="#1e1e1e" stroke="#1e1e1e" stroke-width="0.25" textLength="17.50" lengthAdjust="spacingAndGlyphs">N77</text>
<text x="366.30" y="26.80" font-size="8.6" font-weight="normal" fill="#1e1e1e" stroke="#1e1e1e" stroke-width="0.25" textLength="14.30" lengthAdjust="spacingAndGlyphs">S52</text>
<text x="346.70" y="44.10" font-size="8.6" font-weight="normal" fill="#1e1e1e" stroke="#1e1e1e" stroke-width="0.25" textLength="15.10" lengthAdjust="spacingAndGlyphs">H28</text>
<text x="393.30" y="52.90" font-size="8.6" font-weight="normal" fill="#1e1e1e" stroke="#1e1e1e" stroke-width="0.25" textLength="15.30" lengthAdjust="spacingAndGlyphs">V54</text>
<text x="424.80" y="53.70" font-size="8.6" font-weight="normal" fill="#1e1e1e" stroke="#1e1e1e" stroke-width="0.25" textLength="17.70" lengthAdjust="spacingAndGlyphs">I123</text>
<text x="458.70" y="55.60" font-size="8.6" font-weight="normal" fill="#1e1e1e" stroke="#1e1e1e" stroke-width="0.25" textLength="17.30" lengthAdjust="spacingAndGlyphs">V66</text>
<text x="343.00" y="62.90" font-size="8.6" font-weight="normal" fill="#1e1e1e" stroke="#1e1e1e" stroke-width="0.25" textLength="40.80" lengthAdjust="spacingAndGlyphs">C51-C132</text>
<text x="342.00" y="80.80" font-size="8.6" font-weight="normal" fill="#1e1e1e" stroke="#1e1e1e" stroke-width="0.25" textLength="36.50" lengthAdjust="spacingAndGlyphs">C135-SH</text>
<text x="412.00" y="89.40" font-size="8.6" font-weight="normal" fill="#1e1e1e" stroke="#1e1e1e" stroke-width="0.25" textLength="19.80" lengthAdjust="spacingAndGlyphs">Y139</text>
<text x="406.70" y="18.10" font-size="8.6" font-weight="bold" fill="#111" stroke="#111" stroke-width="0.15" textLength="18.90" lengthAdjust="spacingAndGlyphs">L128</text>
<text x="439.00" y="30.10" font-size="8.6" font-weight="bold" fill="#111" stroke="#111" stroke-width="0.15" textLength="18.90" lengthAdjust="spacingAndGlyphs">W59</text>
<text x="361.00" y="11.50" font-size="10" font-weight="normal" fill="#1e1e1e" stroke="#1e1e1e" stroke-width="0.25" textLength="18.80" lengthAdjust="spacingAndGlyphs">Cap</text>
<text x="458.70" y="77.80" font-size="10" font-weight="normal" fill="#1e1e1e" stroke="#1e1e1e" stroke-width="0.25" textLength="18.30" lengthAdjust="spacingAndGlyphs">War</text>
<g clip-path="url(#cBb)">
<g opacity="1.0"><path d="M372.9,193.3 L375.3,193.7 L378.1,194.1 L381.1,194.7 L384.1,195.3 L387.1,196.0 L389.7,196.9 L392.0,197.8 L393.7,198.8 L394.8,199.9 L395.2,201.1 L395.3,204.2 L394.9,204.0 L393.9,203.7 L392.2,203.5 L389.9,203.1 L387.3,202.7 L384.3,202.2 L381.3,201.6 L378.3,201.0 L375.5,200.1 L373.0,199.2 Z" fill="#d9d9d9" stroke="#c8c8c8" stroke-width="0.5"/><path d="M369.5,211.4 L370.1,211.8 L372.0,212.1 L374.9,212.5 L378.5,213.1 L382.6,213.8 L386.6,214.7 L390.3,215.8 L393.2,217.1 L395.1,218.6 L395.8,220.1 L395.9,223.2 L395.2,222.9 L393.4,222.5 L390.5,222.1 L386.8,221.5 L382.8,220.8 L378.8,219.9 L375.1,218.8 L372.2,217.5 L370.3,216.1 L369.6,214.6 Z" fill="#d9d9d9" stroke="#c8c8c8" stroke-width="0.5"/><path d="M370.1,230.4 L370.8,230.7 L372.6,231.1 L375.5,231.5 L379.1,232.1 L383.2,232.8 L387.2,233.7 L390.9,234.8 L393.8,236.1 L395.7,237.5 L396.4,239.1 L396.5,242.2 L395.9,241.9 L394.0,241.5 L391.1,241.1 L387.5,240.5 L383.4,239.8 L379.4,238.9 L375.7,237.8 L372.8,236.5 L370.9,235.1 L370.2,233.6 Z" fill="#d9d9d9" stroke="#c8c8c8" stroke-width="0.5"/><path d="M370.7,249.4 L371.1,249.7 L372.3,249.9 L374.1,250.2 L376.6,250.6 L379.5,251.0 L382.6,251.6 L385.8,252.2 L388.9,253.0 L391.7,253.9 L394.0,254.9 L394.2,260.5 L391.9,260.1 L389.1,259.7 L386.0,259.2 L382.8,258.5 L379.7,257.8 L376.8,256.9 L374.3,256.0 L372.4,254.9 L371.2,253.7 L370.8,252.5 Z" fill="#d9d9d9" stroke="#c8c8c8" stroke-width="0.5"/><path d="M395.2,201.1 L394.5,201.5 L392.7,201.9 L389.9,202.5 L386.3,203.3 L382.3,204.3 L378.3,205.5 L374.7,206.8 L371.9,208.3 L370.1,209.9 L369.5,211.4 L369.6,214.6 L370.2,214.2 L372.0,213.7 L374.9,213.1 L378.5,212.3 L382.5,211.3 L386.5,210.1 L390.1,208.8 L392.9,207.3 L394.7,205.8 L395.3,204.2 Z" fill="#f0f0f0" stroke="#c8c8c8" stroke-width="0.5"/><path d="M395.8,220.1 L395.2,220.4 L393.3,220.9 L390.5,221.5 L386.9,222.3 L382.9,223.3 L378.9,224.5 L375.3,225.8 L372.5,227.3 L370.7,228.8 L370.1,230.4 L370.2,233.6 L370.8,233.2 L372.7,232.7 L375.5,232.1 L379.1,231.3 L383.1,230.3 L387.1,229.1 L390.7,227.8 L393.5,226.3 L395.3,224.8 L395.9,223.2 Z" fill="#f0f0f0" stroke="#c8c8c8" stroke-width="0.5"/><path d="M396.4,239.1 L395.8,239.4 L393.9,239.9 L391.1,240.5 L387.5,241.3 L383.5,242.3 L379.5,243.5 L375.9,244.8 L373.1,246.3 L371.3,247.8 L370.7,249.4 L370.8,252.5 L371.4,252.2 L373.3,251.7 L376.1,251.1 L379.7,250.3 L383.7,249.3 L387.7,248.1 L391.3,246.8 L394.1,245.3 L395.9,243.8 L396.5,242.2 Z" fill="#f0f0f0" stroke="#c8c8c8" stroke-width="0.5"/></g>
<g opacity="1.0"><path d="M441.0,185.8 L442.3,186.1 L443.6,186.5 L444.8,186.9 L445.8,187.3 L446.7,187.7 L447.5,188.2 L448.2,188.7 L448.7,189.3 L449.0,189.8 L449.1,190.4 L449.5,193.8 L449.4,193.6 L449.2,193.5 L448.7,193.5 L448.1,193.4 L447.4,193.3 L446.5,193.2 L445.5,193.2 L444.4,193.1 L443.1,193.0 L441.8,192.9 Z" fill="#cacaca" stroke="#b8b8b8" stroke-width="0.5"/><path d="M424.5,203.4 L425.2,203.7 L427.0,203.9 L430.0,204.1 L433.6,204.4 L437.7,204.8 L441.9,205.4 L445.6,206.3 L448.6,207.4 L450.7,208.7 L451.5,210.3 L451.9,213.6 L451.2,213.3 L449.3,213.1 L446.4,212.9 L442.7,212.7 L438.6,212.2 L434.5,211.6 L430.7,210.7 L427.7,209.6 L425.7,208.3 L424.9,206.7 Z" fill="#cacaca" stroke="#b8b8b8" stroke-width="0.5"/><path d="M426.8,223.2 L427.5,223.5 L429.4,223.7 L432.3,223.9 L436.0,224.2 L440.1,224.6 L444.2,225.3 L447.9,226.1 L451.0,227.2 L453.0,228.6 L453.8,230.1 L454.2,233.5 L453.5,233.2 L451.6,233.0 L448.7,232.8 L445.0,232.5 L441.0,232.1 L436.8,231.5 L433.1,230.6 L430.1,229.5 L428.0,228.2 L427.2,226.6 Z" fill="#cacaca" stroke="#b8b8b8" stroke-width="0.5"/><path d="M429.2,243.1 L429.8,243.4 L431.7,243.6 L434.6,243.8 L438.3,244.1 L442.4,244.5 L446.5,245.1 L450.3,246.0 L453.3,247.1 L455.3,248.5 L456.1,250.0 L456.5,253.4 L455.9,253.1 L454.0,252.9 L451.1,252.7 L447.4,252.4 L443.3,252.0 L439.2,251.3 L435.4,250.5 L432.4,249.4 L430.4,248.0 L429.6,246.5 Z" fill="#cacaca" stroke="#b8b8b8" stroke-width="0.5"/><path d="M449.1,190.4 L448.5,190.8 L446.8,191.5 L444.0,192.4 L440.5,193.5 L436.6,194.9 L432.7,196.4 L429.3,198.1 L426.6,199.9 L424.9,201.7 L424.5,203.4 L424.9,206.7 L425.5,206.3 L427.3,205.7 L430.0,204.8 L433.6,203.7 L437.4,202.3 L441.3,200.7 L444.8,199.0 L447.4,197.2 L449.1,195.5 L449.5,193.8 Z" fill="#e8e8e8" stroke="#b8b8b8" stroke-width="0.5"/><path d="M451.5,210.3 L450.9,210.7 L449.1,211.3 L446.3,212.2 L442.8,213.4 L438.9,214.7 L435.0,216.3 L431.6,218.0 L428.9,219.8 L427.3,221.5 L426.8,223.2 L427.2,226.6 L427.8,226.2 L429.6,225.5 L432.4,224.6 L435.9,223.5 L439.8,222.2 L443.6,220.6 L447.1,218.9 L449.8,217.1 L451.4,215.3 L451.9,213.6 Z" fill="#e8e8e8" stroke="#b8b8b8" stroke-width="0.5"/><path d="M453.8,230.1 L453.2,230.6 L451.4,231.2 L448.6,232.1 L445.1,233.2 L441.2,234.6 L437.4,236.1 L433.9,237.8 L431.2,239.6 L429.6,241.4 L429.2,243.1 L429.6,246.5 L430.1,246.0 L431.9,245.4 L434.7,244.5 L438.2,243.4 L442.1,242.0 L446.0,240.5 L449.4,238.8 L452.1,237.0 L453.8,235.2 L454.2,233.5 Z" fill="#e8e8e8" stroke="#b8b8b8" stroke-width="0.5"/><path d="M456.1,250.0 L456.0,250.2 L455.6,250.4 L454.9,250.7 L453.9,251.0 L452.7,251.4 L451.3,251.9 L449.7,252.4 L448.0,252.9 L446.1,253.5 L444.2,254.2 L445.1,261.6 L447.0,260.9 L448.8,260.1 L450.5,259.3 L452.1,258.4 L453.4,257.6 L454.6,256.7 L455.5,255.9 L456.1,255.0 L456.5,254.2 L456.5,253.4 Z" fill="#e8e8e8" stroke="#b8b8b8" stroke-width="0.5"/></g>
<g opacity="1.0"><path d="M397.2,194.7 L398.5,195.0 L400.8,195.2 L403.9,195.6 L407.5,196.0 L411.3,196.6 L415.1,197.4 L418.4,198.4 L421.1,199.6 L422.8,200.9 L423.4,202.4 L423.7,205.7 L423.1,205.5 L421.4,205.2 L418.9,205.0 L415.6,204.6 L411.8,204.1 L408.0,203.4 L404.3,202.6 L401.2,201.5 L398.8,200.3 L397.4,198.9 Z" fill="#d6d6d6" stroke="#c4c4c4" stroke-width="0.5"/><path d="M398.1,213.5 L398.8,213.8 L400.6,214.0 L403.5,214.3 L407.2,214.8 L411.2,215.4 L415.3,216.1 L419.0,217.2 L422.0,218.4 L423.9,219.8 L424.7,221.3 L424.9,224.7 L424.2,224.4 L422.4,224.2 L419.5,223.9 L415.8,223.4 L411.7,222.8 L407.7,222.0 L404.0,221.0 L401.0,219.8 L399.1,218.4 L398.3,216.9 Z" fill="#d6d6d6" stroke="#c4c4c4" stroke-width="0.5"/><path d="M399.3,232.5 L400.0,232.7 L401.8,233.0 L404.7,233.3 L408.4,233.7 L412.5,234.3 L416.5,235.1 L420.2,236.1 L423.2,237.3 L425.1,238.7 L425.9,240.3 L426.1,243.6 L425.4,243.4 L423.6,243.1 L420.7,242.8 L417.0,242.4 L413.0,241.8 L408.9,241.0 L405.2,240.0 L402.2,238.8 L400.3,237.4 L399.5,235.8 Z" fill="#d6d6d6" stroke="#c4c4c4" stroke-width="0.5"/><path d="M400.5,251.4 L400.8,251.6 L401.5,251.8 L402.6,251.9 L404.2,252.1 L406.0,252.3 L408.2,252.5 L410.5,252.8 L413.0,253.2 L415.5,253.6 L417.9,254.1 L418.4,261.4 L416.0,261.0 L413.5,260.6 L411.0,260.2 L408.6,259.6 L406.5,259.0 L404.6,258.3 L403.0,257.5 L401.8,256.6 L401.1,255.7 L400.8,254.8 Z" fill="#d6d6d6" stroke="#c4c4c4" stroke-width="0.5"/><path d="M423.4,202.4 L422.8,202.7 L421.0,203.2 L418.2,203.9 L414.6,204.8 L410.6,205.9 L406.7,207.2 L403.2,208.7 L400.4,210.2 L398.6,211.9 L398.1,213.5 L398.3,216.9 L398.9,216.5 L400.8,216.0 L403.6,215.4 L407.2,214.5 L411.1,213.4 L415.1,212.1 L418.6,210.6 L421.4,209.0 L423.1,207.3 L423.7,205.7 Z" fill="#f0f0f0" stroke="#c4c4c4" stroke-width="0.5"/><path d="M424.7,221.3 L424.0,221.7 L422.2,222.2 L419.4,222.8 L415.8,223.7 L411.9,224.8 L407.9,226.1 L404.4,227.6 L401.6,229.2 L399.9,230.8 L399.3,232.5 L399.5,235.8 L400.2,235.5 L402.0,235.0 L404.8,234.3 L408.4,233.4 L412.3,232.3 L416.3,231.0 L419.8,229.5 L422.6,228.0 L424.3,226.3 L424.9,224.7 Z" fill="#f0f0f0" stroke="#c4c4c4" stroke-width="0.5"/><path d="M425.9,240.3 L425.3,240.6 L423.5,241.1 L420.6,241.8 L417.0,242.7 L413.1,243.8 L409.1,245.1 L405.6,246.6 L402.8,248.2 L401.1,249.8 L400.5,251.4 L400.8,254.8 L401.4,254.4 L403.2,254.0 L406.0,253.3 L409.6,252.4 L413.6,251.3 L417.5,250.0 L421.0,248.5 L423.8,246.9 L425.6,245.3 L426.1,243.6 Z" fill="#f0f0f0" stroke="#c4c4c4" stroke-width="0.5"/></g>
</g>
<path d="M355,119 C362,119 370,122 372,129 C374,136 373,143 370,148 C366,154 360,160 357,166 C354,172 353,178 353,184" fill="none" stroke="#222" stroke-width="1.2" stroke-linecap="round" stroke-linejoin="round" stroke-dasharray="3,2.2"/>
<path d="M346,125 C350,122 356,122 362,128 C366,132 366,138 362,139" fill="none" stroke="#d4dcf0" stroke-width="2.4" stroke-linecap="round" stroke-linejoin="round" />
<path d="M356,150 C362,148 370,152 374,160 C376,170 374,180 368,184 C362,184 358,176 357,168 Z" fill="#e4ecf8" opacity="0.9"/>
<path d="M346,148 L350,152 L348,156" fill="none" stroke="#f0b090" stroke-width="1.8" stroke-linecap="round" stroke-linejoin="round" />
<circle cx="345" cy="157" r="1.4" fill="#d82018"/>
<g opacity="1.0"><path d="M429.8,196.4 L429.5,194.8 L429.2,192.8 L428.9,190.5 L428.7,188.0 L428.6,185.5 L428.7,183.1 L429.1,181.0 L429.6,179.3 L430.5,178.0 L431.5,177.3 L434.9,176.1 L434.9,176.4 L435.0,177.3 L435.3,178.8 L435.6,180.6 L435.9,182.9 L436.2,185.3 L436.3,187.8 L436.3,190.2 L436.0,192.4 L435.5,194.3 Z" fill="#d298cc" stroke="#c890c2" stroke-width="0.4"/><path d="M446.0,192.3 L446.0,191.8 L445.8,190.4 L445.4,188.3 L445.0,185.7 L444.7,182.7 L444.6,179.6 L444.8,176.7 L445.3,174.3 L446.2,172.5 L447.5,171.5 L450.9,170.3 L450.9,170.8 L451.1,172.1 L451.5,174.2 L451.9,176.9 L452.2,179.9 L452.3,183.0 L452.1,185.9 L451.6,188.3 L450.7,190.1 L449.4,191.1 Z" fill="#d298cc" stroke="#c890c2" stroke-width="0.4"/><path d="M462.0,186.5 L462.0,186.0 L461.7,184.6 L461.4,182.5 L461.0,179.9 L460.7,176.9 L460.6,173.8 L460.7,170.9 L461.3,168.4 L462.2,166.7 L463.5,165.7 L466.9,164.5 L466.9,165.0 L467.1,166.3 L467.5,168.4 L467.9,171.1 L468.2,174.1 L468.3,177.2 L468.1,180.1 L467.6,182.5 L466.6,184.3 L465.4,185.2 Z" fill="#d298cc" stroke="#c890c2" stroke-width="0.4"/><path d="M431.5,177.3 L431.8,177.7 L432.5,178.9 L433.6,180.8 L435.0,183.1 L436.7,185.6 L438.6,188.0 L440.6,190.1 L442.6,191.6 L444.4,192.4 L446.0,192.3 L449.4,191.1 L449.1,190.7 L448.4,189.5 L447.3,187.6 L445.9,185.3 L444.2,182.8 L442.3,180.4 L440.3,178.3 L438.3,176.8 L436.5,176.0 L434.9,176.1 Z" fill="#eebce2" stroke="#c890c2" stroke-width="0.4"/><path d="M447.5,171.5 L447.8,171.9 L448.5,173.1 L449.6,174.9 L451.0,177.2 L452.7,179.8 L454.6,182.2 L456.6,184.3 L458.5,185.8 L460.4,186.6 L462.0,186.5 L465.4,185.2 L465.0,184.9 L464.4,183.7 L463.3,181.8 L461.9,179.5 L460.2,177.0 L458.3,174.6 L456.3,172.5 L454.3,171.0 L452.5,170.2 L450.9,170.3 Z" fill="#eebce2" stroke="#c890c2" stroke-width="0.4"/><path d="M463.5,165.7 L463.7,165.9 L464.0,166.5 L464.6,167.4 L465.3,168.7 L466.2,170.2 L467.3,171.9 L468.5,173.7 L469.8,175.4 L471.1,177.0 L472.5,178.5 L479.3,176.0 L478.3,174.4 L477.2,172.7 L476.0,170.9 L474.6,169.2 L473.3,167.7 L471.9,166.3 L470.5,165.3 L469.2,164.6 L467.9,164.3 L466.9,164.5 Z" fill="#eebce2" stroke="#c890c2" stroke-width="0.4"/></g>
<path d="M446,176 C450,170 454,166 458,166" fill="none" stroke="#eabcdf" stroke-width="3" stroke-linecap="round" stroke-linejoin="round" />
<path d="M428,186 C432,190 438,192 444,192" fill="none" stroke="#eec0dc" stroke-width="2" stroke-linecap="round" stroke-linejoin="round" />
<path d="M353,190 C353,182 357,175 366,171 C372,168 380,166 388,165 C396,164 404,165 412,165 C418,166 424,166 430,168" fill="none" stroke="#e06a60" stroke-width="2.2" stroke-linecap="round" stroke-linejoin="round" />
<path d="M385,166 C389,171 390,179 385,184 C381,185 380,178 382,172" fill="none" stroke="#e06a60" stroke-width="2.0" stroke-linecap="round" stroke-linejoin="round" />
<path d="M380,196 C382,188 386,183 394,178 C400,174 406,172 412,171 C418,170 424,172 428,178" fill="none" stroke="#a27cc6" stroke-width="1.9" stroke-linecap="round" stroke-linejoin="round" />
<path d="M372,182 C374,176 378,172 384,170" fill="none" stroke="#b89ad8" stroke-width="1.6" stroke-linecap="round" stroke-linejoin="round" />
<path d="M418,155 L416,160 L420,165 L424,168" fill="none" stroke="#f2a468" stroke-width="2.0" stroke-linecap="round" stroke-linejoin="round" />
<path d="M430,170 L426,178 L420,182" fill="none" stroke="#f2a468" stroke-width="2.0" stroke-linecap="round" stroke-linejoin="round" />
<path d="M412,168 L414,176 L408,180" fill="none" stroke="#f2a468" stroke-width="2.0" stroke-linecap="round" stroke-linejoin="round" />
<path d="M400,156 L402,164" fill="none" stroke="#f2a468" stroke-width="2.0" stroke-linecap="round" stroke-linejoin="round" />
<path d="M424,182 L430,184 L436,180" fill="none" stroke="#f2a468" stroke-width="2.0" stroke-linecap="round" stroke-linejoin="round" />
<path d="M438,178 L444,184" fill="none" stroke="#f2a468" stroke-width="2.0" stroke-linecap="round" stroke-linejoin="round" />
<path d="M386,176 L392,170" fill="none" stroke="#f2a468" stroke-width="2.0" stroke-linecap="round" stroke-linejoin="round" />
<path d="M440,186 L444,194" fill="none" stroke="#f2a468" stroke-width="2.0" stroke-linecap="round" stroke-linejoin="round" />
<path d="M396,182 L398,188" fill="none" stroke="#f2a468" stroke-width="2.0" stroke-linecap="round" stroke-linejoin="round" />
<path d="M419,172 L426,170 L431,174 L430,180 L423,182 L418,178 Z" fill="none" stroke="#f0a060" stroke-width="2"/>
<path d="M422,154 L424,155" fill="none" stroke="#1c1c60" stroke-width="2.6" stroke-linecap="round" stroke-linejoin="round" />
<path d="M427,156 L430,157" fill="none" stroke="#1c1c60" stroke-width="2.6" stroke-linecap="round" stroke-linejoin="round" />
<path d="M417,171 L421,171" fill="none" stroke="#1c1c60" stroke-width="2.6" stroke-linecap="round" stroke-linejoin="round" />
<path d="M450,160 L454,164" fill="none" stroke="#1c1c60" stroke-width="2.6" stroke-linecap="round" stroke-linejoin="round" />
<path d="M400,198 L401,236" fill="none" stroke="#f09868" stroke-width="2.4" stroke-linecap="round" stroke-linejoin="round" />
<path d="M395,208 L404,207 L406,215 L401,222 L394,216 Z" fill="none" stroke="#f09868" stroke-width="2.2"/>
<path d="M393,214 L399,217 L405,222 L411,225 L417,227 L422,230 L428,233" fill="none" stroke="#a8b820" stroke-width="2.4" stroke-linecap="round" stroke-linejoin="round" />
<path d="M391,196 L392,205" fill="none" stroke="#2fa33a" stroke-width="2.4" stroke-linecap="round" stroke-linejoin="round" />
<circle cx="390" cy="203" r="1.5" fill="#d82018"/>
<circle cx="403" cy="205" r="1.5" fill="#d82018"/>
<circle cx="398" cy="196" r="1.5" fill="#d82018"/>
<line x1="387" y1="140" x2="382" y2="170" stroke="#1a1a1a" stroke-width="0.9"/>
<line x1="371" y1="222" x2="391" y2="205" stroke="#1a1a1a" stroke-width="0.9"/>
<line x1="400" y1="200" x2="460" y2="218" stroke="#1a1a1a" stroke-width="0.9"/>
<text x="347.50" y="144.10" font-size="8.6" font-weight="normal" fill="#1e1e1e" stroke="#1e1e1e" stroke-width="0.25" textLength="15.30" lengthAdjust="spacingAndGlyphs">D36</text>
<text x="387.00" y="154.80" font-size="8.6" font-weight="normal" fill="#1e1e1e" stroke="#1e1e1e" stroke-width="0.25" textLength="15.20" lengthAdjust="spacingAndGlyphs">S56</text>
<text x="421.00" y="150.00" font-size="8.6" font-weight="normal" fill="#1e1e1e" stroke="#1e1e1e" stroke-width="0.25" textLength="14.50" lengthAdjust="spacingAndGlyphs">R58</text>
<text x="366.30" y="164.30" font-size="8.6" font-weight="normal" fill="#1e1e1e" stroke="#1e1e1e" stroke-width="0.25" textLength="14.30" lengthAdjust="spacingAndGlyphs">S52</text>
<text x="456.50" y="163.40" font-size="8.6" font-weight="normal" fill="#1e1e1e" stroke="#1e1e1e" stroke-width="0.25" textLength="15.50" lengthAdjust="spacingAndGlyphs">H68</text>
<text x="334.00" y="191.40" font-size="8.6" font-weight="normal" fill="#1e1e1e" stroke="#1e1e1e" stroke-width="0.25" textLength="14.30" lengthAdjust="spacingAndGlyphs">H28</text>
<text x="389.80" y="191.90" font-size="8.6" font-weight="normal" fill="#1e1e1e" stroke="#1e1e1e" stroke-width="0.25" textLength="15.10" lengthAdjust="spacingAndGlyphs">V54</text>
<text x="408.00" y="197.90" font-size="8.6" font-weight="normal" fill="#1e1e1e" stroke="#1e1e1e" stroke-width="0.25" textLength="16.20" lengthAdjust="spacingAndGlyphs">I123</text>
<text x="445.80" y="204.10" font-size="8.6" font-weight="normal" fill="#1e1e1e" stroke="#1e1e1e" stroke-width="0.25" textLength="14.00" lengthAdjust="spacingAndGlyphs">V66</text>
<text x="330.50" y="205.90" font-size="8.6" font-weight="normal" fill="#1e1e1e" stroke="#1e1e1e" stroke-width="0.25" textLength="37.20" lengthAdjust="spacingAndGlyphs">C51-C132</text>
<text x="334.80" y="225.60" font-size="8.6" font-weight="normal" fill="#1e1e1e" stroke="#1e1e1e" stroke-width="0.25" textLength="35.00" lengthAdjust="spacingAndGlyphs">C135-SH</text>
<text x="383.30" y="244.50" font-size="8.6" font-weight="normal" fill="#1e1e1e" stroke="#1e1e1e" stroke-width="0.25" textLength="19.40" lengthAdjust="spacingAndGlyphs">Y139</text>
<text x="392.50" y="165.10" font-size="8.6" font-weight="bold" fill="#111" stroke="#111" stroke-width="0.15" textLength="18.30" lengthAdjust="spacingAndGlyphs">L128</text>
<text x="421.50" y="170.10" font-size="8.6" font-weight="bold" fill="#111" stroke="#111" stroke-width="0.15" textLength="18.40" lengthAdjust="spacingAndGlyphs">W59</text>
<text x="378.50" y="138.40" font-size="10" font-weight="normal" fill="#1e1e1e" stroke="#1e1e1e" stroke-width="0.25" textLength="18.80" lengthAdjust="spacingAndGlyphs">Cap</text>
<text x="463.30" y="222.10" font-size="10" font-weight="normal" fill="#1e1e1e" stroke="#1e1e1e" stroke-width="0.25" textLength="14.20" lengthAdjust="spacingAndGlyphs">KO</text>
<text x="381.40" y="268.24" font-size="10.1" font-weight="normal" fill="#1e1e1e" stroke="#1e1e1e" stroke-width="0.25" textLength="39.50" lengthAdjust="spacingAndGlyphs">PO state</text>
<polyline points="56.40,306.95 56.40,309.13 56.40,309.45 56.40,309.82 56.40,310.24 56.40,310.72 56.40,311.27 56.40,311.90 56.41,312.61 56.41,313.43 56.41,314.35 56.41,315.40 56.41,316.59 56.41,317.93 56.41,319.45 56.41,321.15 56.42,323.06 56.42,325.19 56.42,327.56 56.42,330.19 56.43,333.09 56.43,336.26 56.44,339.73 56.44,343.48 56.45,347.53 56.46,351.85 56.46,356.43 56.47,361.24 56.48,366.27 56.50,371.45 56.51,376.76 56.53,382.14 56.55,387.55 56.57,392.92 56.59,398.20 56.62,403.36 56.66,408.34 56.70,413.11 56.74,417.64 56.79,421.91 56.85,425.89 56.92,429.59 56.99,432.99 57.08,436.11 57.19,438.96 57.30,441.53 57.44,443.85 57.59,445.94 57.77,447.80 57.98,449.46 58.22,450.94 58.49,452.25 58.80,453.41 59.16,454.43 59.58,455.34 60.05,456.13 60.60,456.82 61.23,457.43 61.96,457.97 62.79,458.44 63.75,458.85 64.85,459.21 66.12,459.52 67.58,459.79 69.25,460.03 71.18,460.24 73.40,460.42 75.95,460.58 78.88,460.71 82.25,460.83 86.13,460.94 90.59,461.03 95.71,461.11 101.61,461.18 108.39,461.24 116.19,461.29 125.16,461.33 133.50,461.37" fill="none" stroke="#a0a0a8" stroke-width="1.3"/>
<polyline points="56.40,306.95 56.40,308.61 56.40,308.85 56.40,309.13 56.40,309.46 56.40,309.82 56.40,310.25 56.40,310.73 56.41,311.28 56.41,311.91 56.41,312.62 56.41,313.44 56.41,314.36 56.41,315.41 56.41,316.60 56.41,317.94 56.42,319.45 56.42,321.15 56.42,323.05 56.42,325.18 56.43,327.54 56.43,330.15 56.44,333.03 56.44,336.18 56.45,339.62 56.46,343.33 56.46,347.33 56.47,351.59 56.48,356.11 56.50,360.85 56.51,365.78 56.53,370.86 56.55,376.05 56.57,381.31 56.59,386.57 56.62,391.79 56.66,396.93 56.70,401.92 56.74,406.74 56.79,411.34 56.85,415.71 56.92,419.81 56.99,423.64 57.08,427.18 57.19,430.45 57.30,433.43 57.44,436.15 57.59,438.61 57.77,440.82 57.98,442.81 58.22,444.59 58.49,446.17 58.80,447.58 59.16,448.82 59.58,449.92 60.05,450.90 60.60,451.75 61.23,452.50 61.96,453.17 62.79,453.75 63.75,454.25 64.11,454.41" fill="none" stroke="#27307a" stroke-width="1.5"/>
<polyline points="56.40,306.95 56.40,307.09 56.40,307.11 56.40,307.14 56.40,307.17 56.40,307.20 56.40,307.24 56.40,307.28 56.41,307.33 56.41,307.38 56.41,307.45 56.41,307.52 56.41,307.61 56.41,307.71 56.41,307.82 56.41,307.95 56.42,308.10 56.42,308.27 56.42,308.47 56.42,308.69 56.43,308.95 56.43,309.24 56.44,309.58 56.44,309.96 56.45,310.41 56.46,310.91 56.46,311.48 56.47,312.14 56.48,312.88 56.50,313.73 56.51,314.69 56.53,315.77 56.55,317.00 56.57,318.38 56.59,319.93 56.62,321.67 56.66,323.61 56.70,325.76 56.74,328.14 56.79,330.77 56.85,333.65 56.92,336.78 56.99,340.16 57.08,343.80 57.19,347.68 57.30,351.79 57.44,356.10 57.59,360.58 57.77,365.19 57.98,369.91 58.22,374.67 58.49,379.45 58.80,384.18 59.16,388.82 59.58,393.34 60.05,397.70 60.60,401.86 61.23,405.81 61.96,409.51 62.79,412.97 63.75,416.17 64.85,419.11 66.12,421.80 67.58,424.25 69.25,426.46 71.18,428.46 73.40,430.25 75.95,431.84 78.88,433.27 82.25,434.54 86.13,435.66 90.59,436.65 95.71,437.52 101.61,438.29 108.39,438.97 116.19,439.56 125.16,440.09 135.47,440.54 147.33,440.94 160.97,441.29 176.66,441.60 194.70,441.86 215.44,442.10 239.30,442.30 249.15,442.37" fill="none" stroke="#f08a1e" stroke-width="1.3"/>
<rect x="54.70" y="313.06" width="3.4" height="3.4" fill="#9a9aa6"/>
<rect x="54.70" y="320.88" width="3.4" height="3.4" fill="#9a9aa6"/>
<rect x="54.70" y="349.00" width="3.4" height="3.4" fill="#9a9aa6"/>
<rect x="54.70" y="359.94" width="3.4" height="3.4" fill="#9a9aa6"/>
<rect x="54.70" y="383.38" width="3.4" height="3.4" fill="#9a9aa6"/>
<rect x="54.70" y="408.38" width="3.4" height="3.4" fill="#9a9aa6"/>
<rect x="54.70" y="419.31" width="3.4" height="3.4" fill="#9a9aa6"/>
<rect x="54.70" y="430.25" width="3.4" height="3.4" fill="#9a9aa6"/>
<rect x="54.70" y="441.19" width="3.4" height="3.4" fill="#9a9aa6"/>
<rect x="62.41" y="459.62" width="3.4" height="3.4" fill="#9a9aa6"/>
<rect x="131.80" y="459.62" width="3.4" height="3.4" fill="#9a9aa6"/>
<circle cx="56.40" cy="306.95" r="1.9" fill="#1d2a78"/>
<circle cx="56.40" cy="341.32" r="1.9" fill="#1d2a78"/>
<circle cx="56.40" cy="358.51" r="1.9" fill="#1d2a78"/>
<circle cx="56.40" cy="392.89" r="1.9" fill="#1d2a78"/>
<circle cx="56.40" cy="394.45" r="1.9" fill="#1d2a78"/>
<circle cx="56.40" cy="421.01" r="1.9" fill="#1d2a78"/>
<circle cx="56.40" cy="448.36" r="1.9" fill="#1d2a78"/>
<circle cx="57.17" cy="453.82" r="1.9" fill="#1d2a78"/>
<circle cx="64.11" cy="456.95" r="1.9" fill="#1d2a78"/>
<path d="M56.40,304.75 L58.50,308.45 L54.30,308.45 Z" fill="#e8862a"/>
<path d="M56.40,332.88 L58.50,336.57 L54.30,336.57 Z" fill="#e8862a"/>
<path d="M56.40,348.50 L58.50,352.20 L54.30,352.20 Z" fill="#e8862a"/>
<path d="M56.40,364.12 L58.50,367.82 L54.30,367.82 Z" fill="#e8862a"/>
<path d="M57.94,384.44 L60.04,388.14 L55.84,388.14 Z" fill="#e8862a"/>
<path d="M59.10,400.06 L61.20,403.76 L57.00,403.76 Z" fill="#e8862a"/>
<path d="M64.11,414.91 L66.21,418.61 L62.01,418.61 Z" fill="#e8862a"/>
<path d="M94.95,435.22 L97.05,438.92 L92.85,438.92 Z" fill="#e8862a"/>
<path d="M249.15,443.81 L251.25,447.51 L247.05,447.51 Z" fill="#e8862a"/>
<line x1="52.50" y1="305.50" x2="52.50" y2="466.40" stroke="#1a1a1a" stroke-width="1.2" />
<line x1="51.90" y1="465.80" x2="251.00" y2="465.80" stroke="#1a1a1a" stroke-width="1.2" />
<line x1="49.30" y1="463.20" x2="52.50" y2="463.20" stroke="#1a1a1a" stroke-width="1.0" />
<text x="47.80" y="466.00" font-size="9.1" text-anchor="end" font-weight="normal" fill="#222" >0</text>
<line x1="50.50" y1="447.57" x2="52.50" y2="447.57" stroke="#1a1a1a" stroke-width="1.0" />
<line x1="49.30" y1="431.95" x2="52.50" y2="431.95" stroke="#1a1a1a" stroke-width="1.0" />
<text x="47.80" y="434.75" font-size="9.1" text-anchor="end" font-weight="normal" fill="#222" >20</text>
<line x1="50.50" y1="416.32" x2="52.50" y2="416.32" stroke="#1a1a1a" stroke-width="1.0" />
<line x1="49.30" y1="400.70" x2="52.50" y2="400.70" stroke="#1a1a1a" stroke-width="1.0" />
<text x="47.80" y="403.50" font-size="9.1" text-anchor="end" font-weight="normal" fill="#222" >40</text>
<line x1="50.50" y1="385.07" x2="52.50" y2="385.07" stroke="#1a1a1a" stroke-width="1.0" />
<line x1="49.30" y1="369.45" x2="52.50" y2="369.45" stroke="#1a1a1a" stroke-width="1.0" />
<text x="47.80" y="372.25" font-size="9.1" text-anchor="end" font-weight="normal" fill="#222" >60</text>
<line x1="50.50" y1="353.82" x2="52.50" y2="353.82" stroke="#1a1a1a" stroke-width="1.0" />
<line x1="49.30" y1="338.20" x2="52.50" y2="338.20" stroke="#1a1a1a" stroke-width="1.0" />
<text x="47.80" y="341.00" font-size="9.1" text-anchor="end" font-weight="normal" fill="#222" >80</text>
<line x1="50.50" y1="322.57" x2="52.50" y2="322.57" stroke="#1a1a1a" stroke-width="1.0" />
<line x1="49.30" y1="306.95" x2="52.50" y2="306.95" stroke="#1a1a1a" stroke-width="1.0" />
<text x="47.80" y="309.75" font-size="9.1" text-anchor="end" font-weight="normal" fill="#222" >100</text>
<line x1="56.40" y1="465.80" x2="56.40" y2="469.40" stroke="#1a1a1a" stroke-width="1.0" />
<text x="56.40" y="480.80" font-size="9.1" text-anchor="middle" font-weight="normal" fill="#222" >0</text>
<line x1="75.67" y1="465.80" x2="75.67" y2="468.00" stroke="#1a1a1a" stroke-width="1.0" />
<line x1="94.95" y1="465.80" x2="94.95" y2="469.40" stroke="#1a1a1a" stroke-width="1.0" />
<text x="94.95" y="480.80" font-size="9.1" text-anchor="middle" font-weight="normal" fill="#222" >100</text>
<line x1="114.22" y1="465.80" x2="114.22" y2="468.00" stroke="#1a1a1a" stroke-width="1.0" />
<line x1="133.50" y1="465.80" x2="133.50" y2="469.40" stroke="#1a1a1a" stroke-width="1.0" />
<text x="133.50" y="480.80" font-size="9.1" text-anchor="middle" font-weight="normal" fill="#222" >200</text>
<line x1="152.78" y1="465.80" x2="152.78" y2="468.00" stroke="#1a1a1a" stroke-width="1.0" />
<line x1="172.05" y1="465.80" x2="172.05" y2="469.40" stroke="#1a1a1a" stroke-width="1.0" />
<text x="172.05" y="480.80" font-size="9.1" text-anchor="middle" font-weight="normal" fill="#222" >300</text>
<line x1="191.33" y1="465.80" x2="191.33" y2="468.00" stroke="#1a1a1a" stroke-width="1.0" />
<line x1="210.60" y1="465.80" x2="210.60" y2="469.40" stroke="#1a1a1a" stroke-width="1.0" />
<text x="210.60" y="480.80" font-size="9.1" text-anchor="middle" font-weight="normal" fill="#222" >400</text>
<line x1="229.88" y1="465.80" x2="229.88" y2="468.00" stroke="#1a1a1a" stroke-width="1.0" />
<line x1="249.15" y1="465.80" x2="249.15" y2="469.40" stroke="#1a1a1a" stroke-width="1.0" />
<text x="249.15" y="480.80" font-size="9.1" text-anchor="middle" font-weight="normal" fill="#222" >500</text>
<text x="0" y="0" font-size="8.8" fill="#222" text-anchor="middle" textLength="66" lengthAdjust="spacingAndGlyphs" stroke="#222" stroke-width="0.22" transform="translate(25.2,385) rotate(-90)">Relative activity (%)</text>
<text x="152.3" y="494.8" font-size="8.9" fill="#222" text-anchor="middle" textLength="94" lengthAdjust="spacingAndGlyphs" stroke="#222" stroke-width="0.22">Warfarin concentration (μM)</text>
<text x="153.80" y="332.70" font-size="8.6" text-anchor="middle" font-weight="normal" fill="#222" >WT</text>
<text x="153.80" y="344.30" font-size="8.6" text-anchor="middle" font-weight="normal" fill="#222" >VKORC1</text>
<line x1="199.80" y1="318.30" x2="213.00" y2="318.30" stroke="#b8b8c0" stroke-width="1.6" />
<rect x="203.9" y="315.80" width="5" height="5" fill="#b4b4bc"/>
<line x1="199.80" y1="334.50" x2="213.00" y2="334.50" stroke="#1d3a80" stroke-width="1.6" />
<circle cx="206.4" cy="334.50" r="3.0" fill="#1d3a80"/>
<line x1="199.80" y1="350.30" x2="213.00" y2="350.30" stroke="#f0902a" stroke-width="1.6" />
<path d="M206.4,347.10 L209.7,352.50 L203.1,352.50 Z" fill="#f0902a"/>
<text x="216.00" y="321.30" font-size="8.6" text-anchor="start" font-weight="normal" fill="#222" >In cell</text>
<text x="216.00" y="337.50" font-size="8.6" text-anchor="start" font-weight="normal" fill="#222" >GSH</text>
<text x="216.00" y="353.30" font-size="8.6" text-anchor="start" font-weight="normal" fill="#222" >DTT</text>
<rect x="322.55" y="372.47" width="4.6" height="101.03" fill="#c9c9d1"/>
<rect x="327.20" y="372.47" width="4.6" height="101.03" fill="#164a8f"/>
<rect x="331.85" y="372.47" width="4.6" height="101.03" fill="#f19a1b"/>
<line x1="324.85" y1="370.45" x2="324.85" y2="374.49" stroke="#555" stroke-width="0.8" />
<line x1="323.55" y1="370.45" x2="326.15" y2="370.45" stroke="#555" stroke-width="0.9" />
<line x1="323.55" y1="374.49" x2="326.15" y2="374.49" stroke="#555" stroke-width="0.9" />
<line x1="329.50" y1="371.46" x2="329.50" y2="373.99" stroke="#222" stroke-width="0.8" />
<line x1="328.20" y1="371.46" x2="330.80" y2="371.46" stroke="#222" stroke-width="0.9" />
<line x1="328.20" y1="373.99" x2="330.80" y2="373.99" stroke="#222" stroke-width="0.9" />
<rect x="342.65" y="376.51" width="4.6" height="96.99" fill="#c9c9d1"/>
<rect x="347.30" y="399.75" width="4.6" height="73.75" fill="#164a8f"/>
<rect x="351.95" y="419.95" width="4.6" height="53.55" fill="#f19a1b"/>
<line x1="344.95" y1="367.42" x2="344.95" y2="384.59" stroke="#555" stroke-width="0.8" />
<line x1="343.65" y1="367.42" x2="346.25" y2="367.42" stroke="#555" stroke-width="0.9" />
<line x1="343.65" y1="384.59" x2="346.25" y2="384.59" stroke="#555" stroke-width="0.9" />
<line x1="349.60" y1="396.72" x2="349.60" y2="401.77" stroke="#222" stroke-width="0.8" />
<line x1="348.30" y1="396.72" x2="350.90" y2="396.72" stroke="#222" stroke-width="0.9" />
<line x1="348.30" y1="401.77" x2="350.90" y2="401.77" stroke="#222" stroke-width="0.9" />
<line x1="354.25" y1="416.92" x2="354.25" y2="422.99" stroke="#6a3a10" stroke-width="0.8" />
<line x1="352.95" y1="416.92" x2="355.55" y2="416.92" stroke="#6a3a10" stroke-width="0.9" />
<line x1="352.95" y1="422.99" x2="355.55" y2="422.99" stroke="#6a3a10" stroke-width="0.9" />
<rect x="362.75" y="384.59" width="4.6" height="88.91" fill="#c9c9d1"/>
<rect x="367.40" y="378.53" width="4.6" height="94.97" fill="#164a8f"/>
<rect x="372.05" y="420.96" width="4.6" height="52.54" fill="#f19a1b"/>
<line x1="365.05" y1="382.57" x2="365.05" y2="386.61" stroke="#555" stroke-width="0.8" />
<line x1="363.75" y1="382.57" x2="366.35" y2="382.57" stroke="#555" stroke-width="0.9" />
<line x1="363.75" y1="386.61" x2="366.35" y2="386.61" stroke="#555" stroke-width="0.9" />
<line x1="369.70" y1="376.51" x2="369.70" y2="380.55" stroke="#222" stroke-width="0.8" />
<line x1="368.40" y1="376.51" x2="371.00" y2="376.51" stroke="#222" stroke-width="0.9" />
<line x1="368.40" y1="380.55" x2="371.00" y2="380.55" stroke="#222" stroke-width="0.9" />
<line x1="374.35" y1="418.94" x2="374.35" y2="422.99" stroke="#6a3a10" stroke-width="0.8" />
<line x1="373.05" y1="418.94" x2="375.65" y2="418.94" stroke="#6a3a10" stroke-width="0.9" />
<line x1="373.05" y1="422.99" x2="375.65" y2="422.99" stroke="#6a3a10" stroke-width="0.9" />
<rect x="382.85" y="360.35" width="4.6" height="113.15" fill="#c9c9d1"/>
<rect x="387.50" y="354.28" width="4.6" height="119.22" fill="#164a8f"/>
<rect x="392.15" y="402.78" width="4.6" height="70.72" fill="#f19a1b"/>
<line x1="385.15" y1="356.31" x2="385.15" y2="362.37" stroke="#555" stroke-width="0.8" />
<line x1="383.85" y1="356.31" x2="386.45" y2="356.31" stroke="#555" stroke-width="0.9" />
<line x1="383.85" y1="362.37" x2="386.45" y2="362.37" stroke="#555" stroke-width="0.9" />
<line x1="389.80" y1="351.25" x2="389.80" y2="357.32" stroke="#222" stroke-width="0.8" />
<line x1="388.50" y1="351.25" x2="391.10" y2="351.25" stroke="#222" stroke-width="0.9" />
<line x1="388.50" y1="357.32" x2="391.10" y2="357.32" stroke="#222" stroke-width="0.9" />
<line x1="394.45" y1="400.76" x2="394.45" y2="403.79" stroke="#6a3a10" stroke-width="0.8" />
<line x1="393.15" y1="400.76" x2="395.75" y2="400.76" stroke="#6a3a10" stroke-width="0.9" />
<line x1="393.15" y1="403.79" x2="395.75" y2="403.79" stroke="#6a3a10" stroke-width="0.9" />
<rect x="402.95" y="339.13" width="4.6" height="134.37" fill="#c9c9d1"/>
<rect x="407.60" y="379.54" width="4.6" height="93.96" fill="#164a8f"/>
<rect x="412.25" y="394.70" width="4.6" height="78.80" fill="#f19a1b"/>
<line x1="405.25" y1="337.11" x2="405.25" y2="341.15" stroke="#555" stroke-width="0.8" />
<line x1="403.95" y1="337.11" x2="406.55" y2="337.11" stroke="#555" stroke-width="0.9" />
<line x1="403.95" y1="341.15" x2="406.55" y2="341.15" stroke="#555" stroke-width="0.9" />
<line x1="414.55" y1="393.69" x2="414.55" y2="396.72" stroke="#6a3a10" stroke-width="0.8" />
<line x1="413.25" y1="393.69" x2="415.85" y2="393.69" stroke="#6a3a10" stroke-width="0.9" />
<line x1="413.25" y1="396.72" x2="415.85" y2="396.72" stroke="#6a3a10" stroke-width="0.9" />
<rect x="423.05" y="377.52" width="4.6" height="95.98" fill="#c9c9d1"/>
<rect x="427.70" y="366.41" width="4.6" height="107.09" fill="#164a8f"/>
<rect x="432.35" y="445.72" width="4.6" height="27.78" fill="#f19a1b"/>
<line x1="425.35" y1="375.50" x2="425.35" y2="379.54" stroke="#555" stroke-width="0.8" />
<line x1="424.05" y1="375.50" x2="426.65" y2="375.50" stroke="#555" stroke-width="0.9" />
<line x1="424.05" y1="379.54" x2="426.65" y2="379.54" stroke="#555" stroke-width="0.9" />
<line x1="434.65" y1="444.20" x2="434.65" y2="447.23" stroke="#6a3a10" stroke-width="0.8" />
<line x1="433.35" y1="444.20" x2="435.95" y2="444.20" stroke="#6a3a10" stroke-width="0.9" />
<line x1="433.35" y1="447.23" x2="435.95" y2="447.23" stroke="#6a3a10" stroke-width="0.9" />
<rect x="443.15" y="353.27" width="4.6" height="120.23" fill="#c9c9d1"/>
<rect x="447.80" y="414.90" width="4.6" height="58.60" fill="#164a8f"/>
<rect x="452.45" y="434.60" width="4.6" height="38.90" fill="#f19a1b"/>
<line x1="445.45" y1="350.24" x2="445.45" y2="355.29" stroke="#555" stroke-width="0.8" />
<line x1="444.15" y1="350.24" x2="446.75" y2="350.24" stroke="#555" stroke-width="0.9" />
<line x1="444.15" y1="355.29" x2="446.75" y2="355.29" stroke="#555" stroke-width="0.9" />
<line x1="450.10" y1="413.89" x2="450.10" y2="415.91" stroke="#222" stroke-width="0.8" />
<line x1="448.80" y1="413.89" x2="451.40" y2="413.89" stroke="#222" stroke-width="0.9" />
<line x1="448.80" y1="415.91" x2="451.40" y2="415.91" stroke="#222" stroke-width="0.9" />
<rect x="463.25" y="354.28" width="4.6" height="119.22" fill="#c9c9d1"/>
<rect x="467.90" y="361.36" width="4.6" height="112.14" fill="#164a8f"/>
<rect x="472.55" y="409.85" width="4.6" height="63.65" fill="#f19a1b"/>
<line x1="465.55" y1="352.26" x2="465.55" y2="356.31" stroke="#555" stroke-width="0.8" />
<line x1="464.25" y1="352.26" x2="466.85" y2="352.26" stroke="#555" stroke-width="0.9" />
<line x1="464.25" y1="356.31" x2="466.85" y2="356.31" stroke="#555" stroke-width="0.9" />
<line x1="474.85" y1="406.82" x2="474.85" y2="412.88" stroke="#6a3a10" stroke-width="0.8" />
<line x1="473.55" y1="406.82" x2="476.15" y2="406.82" stroke="#6a3a10" stroke-width="0.9" />
<line x1="473.55" y1="412.88" x2="476.15" y2="412.88" stroke="#6a3a10" stroke-width="0.9" />
<rect x="483.35" y="392.68" width="4.6" height="80.82" fill="#c9c9d1"/>
<rect x="488.00" y="320.94" width="4.6" height="152.56" fill="#164a8f"/>
<rect x="492.65" y="403.79" width="4.6" height="69.71" fill="#f19a1b"/>
<line x1="485.65" y1="391.67" x2="485.65" y2="393.69" stroke="#555" stroke-width="0.8" />
<line x1="484.35" y1="391.67" x2="486.95" y2="391.67" stroke="#555" stroke-width="0.9" />
<line x1="484.35" y1="393.69" x2="486.95" y2="393.69" stroke="#555" stroke-width="0.9" />
<line x1="490.30" y1="316.90" x2="490.30" y2="323.98" stroke="#222" stroke-width="0.8" />
<line x1="489.00" y1="316.90" x2="491.60" y2="316.90" stroke="#222" stroke-width="0.9" />
<line x1="489.00" y1="323.98" x2="491.60" y2="323.98" stroke="#222" stroke-width="0.9" />
<rect x="503.45" y="374.49" width="4.6" height="99.01" fill="#c9c9d1"/>
<rect x="508.10" y="338.12" width="4.6" height="135.38" fill="#164a8f"/>
<rect x="512.75" y="407.83" width="4.6" height="65.67" fill="#f19a1b"/>
<line x1="505.75" y1="362.37" x2="505.75" y2="384.59" stroke="#555" stroke-width="0.8" />
<line x1="504.45" y1="362.37" x2="507.05" y2="362.37" stroke="#555" stroke-width="0.9" />
<line x1="504.45" y1="384.59" x2="507.05" y2="384.59" stroke="#555" stroke-width="0.9" />
<line x1="510.40" y1="336.10" x2="510.40" y2="340.14" stroke="#222" stroke-width="0.8" />
<line x1="509.10" y1="336.10" x2="511.70" y2="336.10" stroke="#222" stroke-width="0.9" />
<line x1="509.10" y1="340.14" x2="511.70" y2="340.14" stroke="#222" stroke-width="0.9" />
<line x1="515.05" y1="405.81" x2="515.05" y2="410.86" stroke="#6a3a10" stroke-width="0.8" />
<line x1="513.75" y1="405.81" x2="516.35" y2="405.81" stroke="#6a3a10" stroke-width="0.9" />
<line x1="513.75" y1="410.86" x2="516.35" y2="410.86" stroke="#6a3a10" stroke-width="0.9" />
<line x1="319.40" y1="309.50" x2="319.40" y2="474.10" stroke="#1a1a1a" stroke-width="1.2" />
<line x1="318.80" y1="473.50" x2="520.00" y2="473.50" stroke="#1a1a1a" stroke-width="1.3" />
<line x1="316.20" y1="473.50" x2="319.40" y2="473.50" stroke="#1a1a1a" stroke-width="1.0" />
<text x="313.10" y="476.20" font-size="9.1" text-anchor="end" font-weight="normal" fill="#222" >0</text>
<line x1="317.40" y1="463.40" x2="319.40" y2="463.40" stroke="#1a1a1a" stroke-width="1.0" />
<line x1="316.20" y1="453.29" x2="319.40" y2="453.29" stroke="#1a1a1a" stroke-width="1.0" />
<text x="313.10" y="455.99" font-size="9.1" text-anchor="end" font-weight="normal" fill="#222" >20</text>
<line x1="317.40" y1="443.19" x2="319.40" y2="443.19" stroke="#1a1a1a" stroke-width="1.0" />
<line x1="316.20" y1="433.09" x2="319.40" y2="433.09" stroke="#1a1a1a" stroke-width="1.0" />
<text x="313.10" y="435.79" font-size="9.1" text-anchor="end" font-weight="normal" fill="#222" >40</text>
<line x1="317.40" y1="422.99" x2="319.40" y2="422.99" stroke="#1a1a1a" stroke-width="1.0" />
<line x1="316.20" y1="412.88" x2="319.40" y2="412.88" stroke="#1a1a1a" stroke-width="1.0" />
<text x="313.10" y="415.58" font-size="9.1" text-anchor="end" font-weight="normal" fill="#222" >60</text>
<line x1="317.40" y1="402.78" x2="319.40" y2="402.78" stroke="#1a1a1a" stroke-width="1.0" />
<line x1="316.20" y1="392.68" x2="319.40" y2="392.68" stroke="#1a1a1a" stroke-width="1.0" />
<text x="313.10" y="395.38" font-size="9.1" text-anchor="end" font-weight="normal" fill="#222" >80</text>
<line x1="317.40" y1="382.57" x2="319.40" y2="382.57" stroke="#1a1a1a" stroke-width="1.0" />
<line x1="316.20" y1="372.47" x2="319.40" y2="372.47" stroke="#1a1a1a" stroke-width="1.0" />
<text x="313.10" y="375.17" font-size="9.1" text-anchor="end" font-weight="normal" fill="#222" >100</text>
<line x1="317.40" y1="362.37" x2="319.40" y2="362.37" stroke="#1a1a1a" stroke-width="1.0" />
<line x1="316.20" y1="352.26" x2="319.40" y2="352.26" stroke="#1a1a1a" stroke-width="1.0" />
<text x="313.10" y="354.96" font-size="9.1" text-anchor="end" font-weight="normal" fill="#222" >120</text>
<line x1="317.40" y1="342.16" x2="319.40" y2="342.16" stroke="#1a1a1a" stroke-width="1.0" />
<line x1="316.20" y1="332.06" x2="319.40" y2="332.06" stroke="#1a1a1a" stroke-width="1.0" />
<text x="313.10" y="334.76" font-size="9.1" text-anchor="end" font-weight="normal" fill="#222" >140</text>
<line x1="317.40" y1="321.96" x2="319.40" y2="321.96" stroke="#1a1a1a" stroke-width="1.0" />
<line x1="316.20" y1="311.85" x2="319.40" y2="311.85" stroke="#1a1a1a" stroke-width="1.0" />
<text x="313.10" y="314.55" font-size="9.1" text-anchor="end" font-weight="normal" fill="#222" >160</text>
<line x1="329.50" y1="473.50" x2="329.50" y2="476.30" stroke="#1a1a1a" stroke-width="1.0" />
<text x="0" y="0" font-size="9.0" fill="#222" text-anchor="end" transform="translate(333.50,483.50) rotate(-45)">WT</text>
<line x1="349.60" y1="473.50" x2="349.60" y2="476.30" stroke="#1a1a1a" stroke-width="1.0" />
<text x="0" y="0" font-size="9.0" fill="#222" text-anchor="end" transform="translate(353.60,483.50) rotate(-45)">A26P</text>
<line x1="369.70" y1="473.50" x2="369.70" y2="476.30" stroke="#1a1a1a" stroke-width="1.0" />
<text x="0" y="0" font-size="9.0" fill="#222" text-anchor="end" transform="translate(373.70,483.50) rotate(-45)">V29L</text>
<line x1="389.80" y1="473.50" x2="389.80" y2="476.30" stroke="#1a1a1a" stroke-width="1.0" />
<text x="0" y="0" font-size="9.0" fill="#222" text-anchor="end" transform="translate(393.80,483.50) rotate(-45)">A34P</text>
<line x1="409.90" y1="473.50" x2="409.90" y2="476.30" stroke="#1a1a1a" stroke-width="1.0" />
<text x="0" y="0" font-size="9.0" fill="#222" text-anchor="end" transform="translate(413.90,483.50) rotate(-45)">V54L</text>
<line x1="430.00" y1="473.50" x2="430.00" y2="476.30" stroke="#1a1a1a" stroke-width="1.0" />
<text x="0" y="0" font-size="9.0" fill="#222" text-anchor="end" transform="translate(434.00,483.50) rotate(-45)">W59R</text>
<line x1="450.10" y1="473.50" x2="450.10" y2="476.30" stroke="#1a1a1a" stroke-width="1.0" />
<text x="0" y="0" font-size="9.0" fill="#222" text-anchor="end" transform="translate(454.10,483.50) rotate(-45)">N77Y</text>
<line x1="470.20" y1="473.50" x2="470.20" y2="476.30" stroke="#1a1a1a" stroke-width="1.0" />
<text x="0" y="0" font-size="9.0" fill="#222" text-anchor="end" transform="translate(474.20,483.50) rotate(-45)">I123N</text>
<line x1="490.30" y1="473.50" x2="490.30" y2="476.30" stroke="#1a1a1a" stroke-width="1.0" />
<text x="0" y="0" font-size="9.0" fill="#222" text-anchor="end" transform="translate(494.30,483.50) rotate(-45)">L128R</text>
<line x1="510.40" y1="473.50" x2="510.40" y2="476.30" stroke="#1a1a1a" stroke-width="1.0" />
<text x="0" y="0" font-size="9.0" fill="#222" text-anchor="end" transform="translate(514.40,483.50) rotate(-45)">Y139H</text>
<rect x="365.9" y="301.7" width="5.2" height="5.2" fill="#c9c9d1"/>
<rect x="409.1" y="301.7" width="5.2" height="5.2" fill="#164a8f"/>
<rect x="449.7" y="301.7" width="5.2" height="5.2" fill="#f19a1b"/>
<text x="375.50" y="307.30" font-size="8.6" text-anchor="start" font-weight="normal" fill="#222" >In cell</text>
<text x="417.70" y="307.30" font-size="8.6" text-anchor="start" font-weight="normal" fill="#222" >GSH</text>
<text x="458.80" y="307.30" font-size="8.6" text-anchor="start" font-weight="normal" fill="#222" >DTT</text>
<text x="0" y="0" font-size="8.8" fill="#222" text-anchor="middle" textLength="66" lengthAdjust="spacingAndGlyphs" stroke="#222" stroke-width="0.22" transform="translate(291.6,391.2) rotate(-90)">Relative activity (%)</text>
<rect x="188.55" y="691.92" width="4.6" height="1.08" fill="#c9c9d1"/>
<rect x="193.20" y="691.92" width="4.6" height="1.08" fill="#164a8f"/>
<rect x="197.85" y="691.92" width="4.6" height="1.08" fill="#f19a1b"/>
<rect x="208.58" y="638.17" width="4.6" height="54.83" fill="#c9c9d1"/>
<rect x="213.23" y="633.88" width="4.6" height="59.12" fill="#164a8f"/>
<rect x="217.88" y="682.25" width="4.6" height="10.75" fill="#f19a1b"/>
<line x1="210.88" y1="628.50" x2="210.88" y2="647.85" stroke="#555" stroke-width="0.8" />
<line x1="209.58" y1="628.50" x2="212.18" y2="628.50" stroke="#555" stroke-width="0.9" />
<line x1="209.58" y1="647.85" x2="212.18" y2="647.85" stroke="#555" stroke-width="0.9" />
<line x1="215.53" y1="623.12" x2="215.53" y2="644.62" stroke="#222" stroke-width="0.8" />
<line x1="214.23" y1="623.12" x2="216.83" y2="623.12" stroke="#222" stroke-width="0.9" />
<line x1="214.23" y1="644.62" x2="216.83" y2="644.62" stroke="#222" stroke-width="0.9" />
<line x1="220.18" y1="680.10" x2="220.18" y2="684.40" stroke="#6a3a10" stroke-width="0.8" />
<line x1="218.88" y1="680.10" x2="221.48" y2="680.10" stroke="#6a3a10" stroke-width="0.9" />
<line x1="218.88" y1="684.40" x2="221.48" y2="684.40" stroke="#6a3a10" stroke-width="0.9" />
<rect x="228.61" y="676.34" width="4.6" height="16.66" fill="#c9c9d1"/>
<rect x="233.26" y="683.33" width="4.6" height="9.67" fill="#164a8f"/>
<rect x="237.91" y="691.92" width="4.6" height="1.08" fill="#f19a1b"/>
<line x1="230.91" y1="672.58" x2="230.91" y2="680.10" stroke="#555" stroke-width="0.8" />
<line x1="229.61" y1="672.58" x2="232.21" y2="672.58" stroke="#555" stroke-width="0.9" />
<line x1="229.61" y1="680.10" x2="232.21" y2="680.10" stroke="#555" stroke-width="0.9" />
<line x1="235.56" y1="676.88" x2="235.56" y2="688.70" stroke="#222" stroke-width="0.8" />
<line x1="234.26" y1="676.88" x2="236.86" y2="676.88" stroke="#222" stroke-width="0.9" />
<line x1="234.26" y1="688.70" x2="236.86" y2="688.70" stroke="#222" stroke-width="0.9" />
<rect x="248.64" y="669.35" width="4.6" height="23.65" fill="#c9c9d1"/>
<rect x="253.29" y="677.95" width="4.6" height="15.05" fill="#164a8f"/>
<rect x="257.94" y="690.85" width="4.6" height="2.15" fill="#f19a1b"/>
<line x1="250.94" y1="660.75" x2="250.94" y2="676.88" stroke="#555" stroke-width="0.8" />
<line x1="249.64" y1="660.75" x2="252.24" y2="660.75" stroke="#555" stroke-width="0.9" />
<line x1="249.64" y1="676.88" x2="252.24" y2="676.88" stroke="#555" stroke-width="0.9" />
<line x1="255.59" y1="667.20" x2="255.59" y2="688.70" stroke="#222" stroke-width="0.8" />
<line x1="254.29" y1="667.20" x2="256.89" y2="667.20" stroke="#222" stroke-width="0.9" />
<line x1="254.29" y1="688.70" x2="256.89" y2="688.70" stroke="#222" stroke-width="0.9" />
<rect x="268.67" y="683.33" width="4.6" height="9.67" fill="#c9c9d1"/>
<rect x="273.32" y="684.40" width="4.6" height="8.60" fill="#164a8f"/>
<rect x="277.97" y="684.94" width="4.6" height="8.06" fill="#f19a1b"/>
<line x1="270.97" y1="680.64" x2="270.97" y2="685.48" stroke="#555" stroke-width="0.8" />
<line x1="269.67" y1="680.64" x2="272.27" y2="680.64" stroke="#555" stroke-width="0.9" />
<line x1="269.67" y1="685.48" x2="272.27" y2="685.48" stroke="#555" stroke-width="0.9" />
<line x1="275.62" y1="681.17" x2="275.62" y2="686.55" stroke="#222" stroke-width="0.8" />
<line x1="274.32" y1="681.17" x2="276.92" y2="681.17" stroke="#222" stroke-width="0.9" />
<line x1="274.32" y1="686.55" x2="276.92" y2="686.55" stroke="#222" stroke-width="0.9" />
<line x1="280.27" y1="681.17" x2="280.27" y2="687.62" stroke="#6a3a10" stroke-width="0.8" />
<line x1="278.97" y1="681.17" x2="281.57" y2="681.17" stroke="#6a3a10" stroke-width="0.9" />
<line x1="278.97" y1="687.62" x2="281.57" y2="687.62" stroke="#6a3a10" stroke-width="0.9" />
<rect x="288.70" y="591.95" width="4.6" height="101.05" fill="#c9c9d1"/>
<rect x="293.35" y="568.84" width="4.6" height="124.16" fill="#164a8f"/>
<rect x="298.00" y="688.70" width="4.6" height="4.30" fill="#f19a1b"/>
<line x1="291.00" y1="564.00" x2="291.00" y2="619.90" stroke="#555" stroke-width="0.8" />
<line x1="289.70" y1="564.00" x2="292.30" y2="564.00" stroke="#555" stroke-width="0.9" />
<line x1="289.70" y1="619.90" x2="292.30" y2="619.90" stroke="#555" stroke-width="0.9" />
<line x1="295.65" y1="534.98" x2="295.65" y2="601.62" stroke="#222" stroke-width="0.8" />
<line x1="294.35" y1="534.98" x2="296.95" y2="534.98" stroke="#222" stroke-width="0.9" />
<line x1="294.35" y1="601.62" x2="296.95" y2="601.62" stroke="#222" stroke-width="0.9" />
<rect x="308.73" y="689.77" width="4.6" height="3.23" fill="#c9c9d1"/>
<rect x="313.38" y="687.09" width="4.6" height="5.91" fill="#164a8f"/>
<rect x="318.03" y="689.77" width="4.6" height="3.23" fill="#f19a1b"/>
<line x1="311.03" y1="688.70" x2="311.03" y2="690.85" stroke="#555" stroke-width="0.8" />
<line x1="309.73" y1="688.70" x2="312.33" y2="688.70" stroke="#555" stroke-width="0.9" />
<line x1="309.73" y1="690.85" x2="312.33" y2="690.85" stroke="#555" stroke-width="0.9" />
<line x1="315.68" y1="684.40" x2="315.68" y2="689.77" stroke="#222" stroke-width="0.8" />
<line x1="314.38" y1="684.40" x2="316.98" y2="684.40" stroke="#222" stroke-width="0.9" />
<line x1="314.38" y1="689.77" x2="316.98" y2="689.77" stroke="#222" stroke-width="0.9" />
<rect x="328.76" y="684.08" width="4.6" height="8.92" fill="#c9c9d1"/>
<rect x="333.41" y="686.55" width="4.6" height="6.45" fill="#164a8f"/>
<rect x="338.06" y="690.31" width="4.6" height="2.69" fill="#f19a1b"/>
<line x1="331.06" y1="681.17" x2="331.06" y2="686.55" stroke="#555" stroke-width="0.8" />
<line x1="329.76" y1="681.17" x2="332.36" y2="681.17" stroke="#555" stroke-width="0.9" />
<line x1="329.76" y1="686.55" x2="332.36" y2="686.55" stroke="#555" stroke-width="0.9" />
<line x1="335.71" y1="684.40" x2="335.71" y2="688.70" stroke="#222" stroke-width="0.8" />
<line x1="334.41" y1="684.40" x2="337.01" y2="684.40" stroke="#222" stroke-width="0.9" />
<line x1="334.41" y1="688.70" x2="337.01" y2="688.70" stroke="#222" stroke-width="0.9" />
<rect x="348.79" y="654.30" width="4.6" height="38.70" fill="#c9c9d1"/>
<rect x="353.44" y="653.76" width="4.6" height="39.24" fill="#164a8f"/>
<rect x="358.09" y="691.92" width="4.6" height="1.08" fill="#f19a1b"/>
<line x1="351.09" y1="641.40" x2="351.09" y2="666.12" stroke="#555" stroke-width="0.8" />
<line x1="349.79" y1="641.40" x2="352.39" y2="641.40" stroke="#555" stroke-width="0.9" />
<line x1="349.79" y1="666.12" x2="352.39" y2="666.12" stroke="#555" stroke-width="0.9" />
<line x1="355.74" y1="645.70" x2="355.74" y2="662.90" stroke="#222" stroke-width="0.8" />
<line x1="354.44" y1="645.70" x2="357.04" y2="645.70" stroke="#222" stroke-width="0.9" />
<line x1="354.44" y1="662.90" x2="357.04" y2="662.90" stroke="#222" stroke-width="0.9" />
<rect x="368.82" y="684.40" width="4.6" height="8.60" fill="#c9c9d1"/>
<rect x="373.47" y="685.69" width="4.6" height="7.31" fill="#164a8f"/>
<rect x="378.12" y="688.16" width="4.6" height="4.84" fill="#f19a1b"/>
<line x1="371.12" y1="681.17" x2="371.12" y2="686.55" stroke="#555" stroke-width="0.8" />
<line x1="369.82" y1="681.17" x2="372.42" y2="681.17" stroke="#555" stroke-width="0.9" />
<line x1="369.82" y1="686.55" x2="372.42" y2="686.55" stroke="#555" stroke-width="0.9" />
<line x1="375.77" y1="681.71" x2="375.77" y2="688.70" stroke="#222" stroke-width="0.8" />
<line x1="374.47" y1="681.71" x2="377.07" y2="681.71" stroke="#222" stroke-width="0.9" />
<line x1="374.47" y1="688.70" x2="377.07" y2="688.70" stroke="#222" stroke-width="0.9" />
<line x1="380.42" y1="686.55" x2="380.42" y2="689.77" stroke="#6a3a10" stroke-width="0.8" />
<line x1="379.12" y1="686.55" x2="381.72" y2="686.55" stroke="#6a3a10" stroke-width="0.9" />
<line x1="379.12" y1="689.77" x2="381.72" y2="689.77" stroke="#6a3a10" stroke-width="0.9" />
<line x1="185.20" y1="539.50" x2="185.20" y2="693.60" stroke="#1a1a1a" stroke-width="1.2" />
<line x1="184.60" y1="693.00" x2="386.00" y2="693.00" stroke="#1a1a1a" stroke-width="1.3" />
<line x1="182.00" y1="693.00" x2="185.20" y2="693.00" stroke="#1a1a1a" stroke-width="1.0" />
<text x="178.90" y="695.70" font-size="9.1" text-anchor="end" font-weight="normal" fill="#222" >0</text>
<line x1="183.20" y1="682.25" x2="185.20" y2="682.25" stroke="#1a1a1a" stroke-width="1.0" />
<line x1="182.00" y1="671.50" x2="185.20" y2="671.50" stroke="#1a1a1a" stroke-width="1.0" />
<text x="178.90" y="674.20" font-size="9.1" text-anchor="end" font-weight="normal" fill="#222" >20</text>
<line x1="183.20" y1="660.75" x2="185.20" y2="660.75" stroke="#1a1a1a" stroke-width="1.0" />
<line x1="182.00" y1="650.00" x2="185.20" y2="650.00" stroke="#1a1a1a" stroke-width="1.0" />
<text x="178.90" y="652.70" font-size="9.1" text-anchor="end" font-weight="normal" fill="#222" >40</text>
<line x1="183.20" y1="639.25" x2="185.20" y2="639.25" stroke="#1a1a1a" stroke-width="1.0" />
<line x1="182.00" y1="628.50" x2="185.20" y2="628.50" stroke="#1a1a1a" stroke-width="1.0" />
<text x="178.90" y="631.20" font-size="9.1" text-anchor="end" font-weight="normal" fill="#222" >60</text>
<line x1="183.20" y1="617.75" x2="185.20" y2="617.75" stroke="#1a1a1a" stroke-width="1.0" />
<line x1="182.00" y1="607.00" x2="185.20" y2="607.00" stroke="#1a1a1a" stroke-width="1.0" />
<text x="178.90" y="609.70" font-size="9.1" text-anchor="end" font-weight="normal" fill="#222" >80</text>
<line x1="183.20" y1="596.25" x2="185.20" y2="596.25" stroke="#1a1a1a" stroke-width="1.0" />
<line x1="182.00" y1="585.50" x2="185.20" y2="585.50" stroke="#1a1a1a" stroke-width="1.0" />
<text x="178.90" y="588.20" font-size="9.1" text-anchor="end" font-weight="normal" fill="#222" >100</text>
<line x1="183.20" y1="574.75" x2="185.20" y2="574.75" stroke="#1a1a1a" stroke-width="1.0" />
<line x1="182.00" y1="564.00" x2="185.20" y2="564.00" stroke="#1a1a1a" stroke-width="1.0" />
<text x="178.90" y="566.70" font-size="9.1" text-anchor="end" font-weight="normal" fill="#222" >120</text>
<line x1="183.20" y1="553.25" x2="185.20" y2="553.25" stroke="#1a1a1a" stroke-width="1.0" />
<line x1="182.00" y1="542.50" x2="185.20" y2="542.50" stroke="#1a1a1a" stroke-width="1.0" />
<text x="178.90" y="545.20" font-size="9.1" text-anchor="end" font-weight="normal" fill="#222" >140</text>
<line x1="195.50" y1="693.00" x2="195.50" y2="695.80" stroke="#1a1a1a" stroke-width="1.0" />
<text x="0" y="0" font-size="9.0" fill="#222" text-anchor="end" transform="translate(199.50,703.00) rotate(-45)">WT</text>
<line x1="215.53" y1="693.00" x2="215.53" y2="695.80" stroke="#1a1a1a" stroke-width="1.0" />
<text x="0" y="0" font-size="9.0" fill="#222" text-anchor="end" transform="translate(219.53,703.00) rotate(-45)">A26P</text>
<line x1="235.56" y1="693.00" x2="235.56" y2="695.80" stroke="#1a1a1a" stroke-width="1.0" />
<text x="0" y="0" font-size="9.0" fill="#222" text-anchor="end" transform="translate(239.56,703.00) rotate(-45)">V29L</text>
<line x1="255.59" y1="693.00" x2="255.59" y2="695.80" stroke="#1a1a1a" stroke-width="1.0" />
<text x="0" y="0" font-size="9.0" fill="#222" text-anchor="end" transform="translate(259.59,703.00) rotate(-45)">A34P</text>
<line x1="275.62" y1="693.00" x2="275.62" y2="695.80" stroke="#1a1a1a" stroke-width="1.0" />
<text x="0" y="0" font-size="9.0" fill="#222" text-anchor="end" transform="translate(279.62,703.00) rotate(-45)">V54L</text>
<line x1="295.65" y1="693.00" x2="295.65" y2="695.80" stroke="#1a1a1a" stroke-width="1.0" />
<text x="0" y="0" font-size="9.0" fill="#222" text-anchor="end" transform="translate(299.65,703.00) rotate(-45)">W59R</text>
<line x1="315.68" y1="693.00" x2="315.68" y2="695.80" stroke="#1a1a1a" stroke-width="1.0" />
<text x="0" y="0" font-size="9.0" fill="#222" text-anchor="end" transform="translate(319.68,703.00) rotate(-45)">N77Y</text>
<line x1="335.71" y1="693.00" x2="335.71" y2="695.80" stroke="#1a1a1a" stroke-width="1.0" />
<text x="0" y="0" font-size="9.0" fill="#222" text-anchor="end" transform="translate(339.71,703.00) rotate(-45)">I123N</text>
<line x1="355.74" y1="693.00" x2="355.74" y2="695.80" stroke="#1a1a1a" stroke-width="1.0" />
<text x="0" y="0" font-size="9.0" fill="#222" text-anchor="end" transform="translate(359.74,703.00) rotate(-45)">L128R</text>
<line x1="375.77" y1="693.00" x2="375.77" y2="695.80" stroke="#1a1a1a" stroke-width="1.0" />
<text x="0" y="0" font-size="9.0" fill="#222" text-anchor="end" transform="translate(379.77,703.00) rotate(-45)">Y139H</text>
<rect x="328.6" y="540.6999999999999" width="5.4" height="5.2" fill="#c9c9d1"/>
<text x="337.80" y="546.00" font-size="8.4" text-anchor="start" font-weight="normal" fill="#222" >In cell</text>
<rect x="328.6" y="555.9" width="5.4" height="5.2" fill="#164a8f"/>
<text x="337.80" y="561.20" font-size="8.4" text-anchor="start" font-weight="normal" fill="#222" >GSH</text>
<rect x="328.6" y="571.4" width="5.4" height="5.2" fill="#f19a1b"/>
<text x="337.80" y="576.70" font-size="8.4" text-anchor="start" font-weight="normal" fill="#222" >DTT</text>
<text x="0" y="0" font-size="8.8" fill="#222" text-anchor="middle" textLength="82" lengthAdjust="spacingAndGlyphs" stroke="#222" stroke-width="0.22" transform="translate(157.6,615.6) rotate(-90)">Warfarin resistance (fold)</text>
<text x="24.80" y="11.00" font-size="12.2" text-anchor="start" font-weight="bold" fill="#000" >A</text>
<text x="325.90" y="11.00" font-size="12.2" text-anchor="start" font-weight="bold" fill="#000" >B</text>
<text x="0.60" y="292.10" font-size="12.2" text-anchor="start" font-weight="bold" fill="#000" >C</text>
<text x="269.00" y="290.80" font-size="12.2" text-anchor="start" font-weight="bold" fill="#000" >D</text>
<text x="137.00" y="524.80" font-size="12.2" text-anchor="start" font-weight="bold" fill="#000" >E</text>
</svg></body></html>
